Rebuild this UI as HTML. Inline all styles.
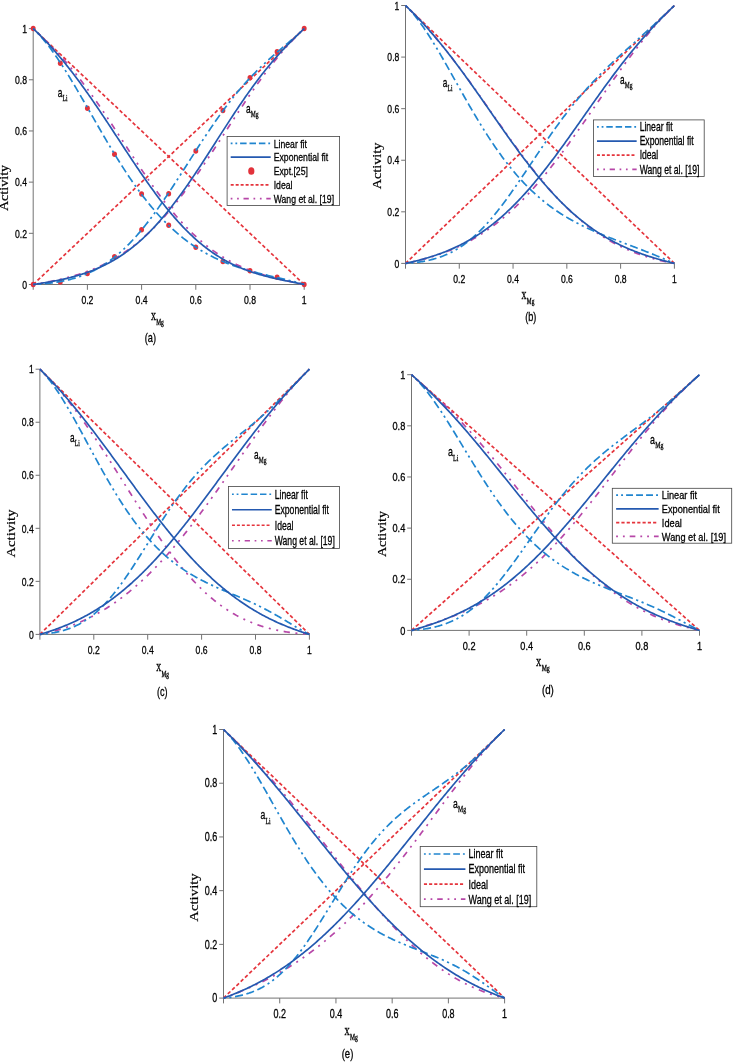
<!DOCTYPE html>
<html lang="en"><head><meta charset="utf-8"><title>Activity</title>
<style>html,body{margin:0;padding:0;background:#fff}body{width:733px;height:1062px;overflow:hidden}svg text{fill:#000}.sn{stroke:#000;stroke-width:0.3px}.sf{stroke:#000;stroke-width:0.32px}.sb{stroke:#000;stroke-width:0.3px}.sa{stroke:#000;stroke-width:0.18px}</style>
</head><body>
<svg width="733" height="1062" viewBox="0 0 733 1062" style="display:block">
<rect width="733" height="1062" fill="#fff"/>
<g><path d="M33.20,28.60 V284.50 H304.20" fill="none" stroke="#737373" stroke-width="1"/>
<path d="M28.90,284.50 H33.20 M33.20,284.50 V289.80 M28.90,233.32 H33.20 M87.40,284.50 V289.80 M28.90,182.14 H33.20 M141.60,284.50 V289.80 M28.90,130.96 H33.20 M195.80,284.50 V289.80 M28.90,79.78 H33.20 M250.00,284.50 V289.80 M28.90,28.60 H33.20 M304.20,284.50 V289.80" fill="none" stroke="#737373" stroke-width="1"/>
<text transform="translate(27.00,288.70) scale(0.76,1)" font-family='"Liberation Sans", sans-serif' class="sn" font-size="11.4" text-anchor="end" font-weight="normal" >0</text>
<text transform="translate(27.00,237.52) scale(0.76,1)" font-family='"Liberation Sans", sans-serif' class="sn" font-size="11.4" text-anchor="end" font-weight="normal" >0.2</text>
<text transform="translate(87.40,304.10) scale(0.76,1)" font-family='"Liberation Sans", sans-serif' class="sn" font-size="11.4" text-anchor="middle" font-weight="normal" >0.2</text>
<text transform="translate(27.00,186.34) scale(0.76,1)" font-family='"Liberation Sans", sans-serif' class="sn" font-size="11.4" text-anchor="end" font-weight="normal" >0.4</text>
<text transform="translate(141.60,304.10) scale(0.76,1)" font-family='"Liberation Sans", sans-serif' class="sn" font-size="11.4" text-anchor="middle" font-weight="normal" >0.4</text>
<text transform="translate(27.00,135.16) scale(0.76,1)" font-family='"Liberation Sans", sans-serif' class="sn" font-size="11.4" text-anchor="end" font-weight="normal" >0.6</text>
<text transform="translate(195.80,304.10) scale(0.76,1)" font-family='"Liberation Sans", sans-serif' class="sn" font-size="11.4" text-anchor="middle" font-weight="normal" >0.6</text>
<text transform="translate(27.00,83.98) scale(0.76,1)" font-family='"Liberation Sans", sans-serif' class="sn" font-size="11.4" text-anchor="end" font-weight="normal" >0.8</text>
<text transform="translate(250.00,304.10) scale(0.76,1)" font-family='"Liberation Sans", sans-serif' class="sn" font-size="11.4" text-anchor="middle" font-weight="normal" >0.8</text>
<text transform="translate(27.00,32.80) scale(0.76,1)" font-family='"Liberation Sans", sans-serif' class="sn" font-size="11.4" text-anchor="end" font-weight="normal" >1</text>
<text transform="translate(304.20,304.10) scale(0.76,1)" font-family='"Liberation Sans", sans-serif' class="sn" font-size="11.4" text-anchor="middle" font-weight="normal" >1</text>
<ellipse cx="33.20" cy="28.60" rx="2.45" ry="2.75" fill="#e2323b"/>
<ellipse cx="304.20" cy="284.50" rx="2.45" ry="2.75" fill="#e2323b"/>
<ellipse cx="33.20" cy="284.50" rx="2.45" ry="2.75" fill="#e2323b"/>
<ellipse cx="304.20" cy="28.60" rx="2.45" ry="2.75" fill="#e2323b"/>
<ellipse cx="60.30" cy="63.15" rx="2.45" ry="2.75" fill="#e2323b"/>
<ellipse cx="87.40" cy="108.18" rx="2.45" ry="2.75" fill="#e2323b"/>
<ellipse cx="114.50" cy="154.25" rx="2.45" ry="2.75" fill="#e2323b"/>
<ellipse cx="141.60" cy="193.91" rx="2.45" ry="2.75" fill="#e2323b"/>
<ellipse cx="168.70" cy="225.13" rx="2.45" ry="2.75" fill="#e2323b"/>
<ellipse cx="195.80" cy="247.14" rx="2.45" ry="2.75" fill="#e2323b"/>
<ellipse cx="222.90" cy="261.47" rx="2.45" ry="2.75" fill="#e2323b"/>
<ellipse cx="250.00" cy="270.68" rx="2.45" ry="2.75" fill="#e2323b"/>
<ellipse cx="277.10" cy="277.33" rx="2.45" ry="2.75" fill="#e2323b"/>
<ellipse cx="60.30" cy="281.94" rx="2.45" ry="2.75" fill="#e2323b"/>
<ellipse cx="87.40" cy="273.50" rx="2.45" ry="2.75" fill="#e2323b"/>
<ellipse cx="114.50" cy="256.86" rx="2.45" ry="2.75" fill="#e2323b"/>
<ellipse cx="141.60" cy="229.87" rx="2.45" ry="2.75" fill="#e2323b"/>
<ellipse cx="168.70" cy="193.66" rx="2.45" ry="2.75" fill="#e2323b"/>
<ellipse cx="195.80" cy="150.92" rx="2.45" ry="2.75" fill="#e2323b"/>
<ellipse cx="222.90" cy="110.49" rx="2.45" ry="2.75" fill="#e2323b"/>
<ellipse cx="250.00" cy="77.73" rx="2.45" ry="2.75" fill="#e2323b"/>
<ellipse cx="277.10" cy="51.63" rx="2.45" ry="2.75" fill="#e2323b"/>
<path d="M33.20,28.60 L304.20,284.50" fill="none" stroke="#e5343c" stroke-width="1.7" stroke-dasharray="3.6 2.35"/>
<path d="M33.20,284.50 L304.20,28.60" fill="none" stroke="#e5343c" stroke-width="1.7" stroke-dasharray="3.6 2.35"/>
<path d="M33.20,28.60 L34.33,29.67 L35.46,30.74 L36.59,31.81 L37.72,32.88 L38.85,33.96 L39.98,35.04 L41.10,36.12 L42.23,37.21 L43.36,38.31 L44.49,39.41 L45.62,40.52 L46.75,41.64 L47.88,42.76 L49.01,43.89 L50.14,45.03 L51.27,46.18 L52.40,47.34 L53.53,48.51 L54.65,49.69 L55.78,50.87 L56.91,52.07 L58.04,53.28 L59.17,54.50 L60.30,55.73 L61.43,56.98 L62.56,58.23 L63.69,59.50 L64.82,60.78 L65.95,62.07 L67.08,63.37 L68.20,64.69 L69.33,66.02 L70.46,67.36 L71.59,68.71 L72.72,70.08 L73.85,71.46 L74.98,72.85 L76.11,74.25 L77.24,75.67 L78.37,77.10 L79.50,78.54 L80.62,80.00 L81.75,81.47 L82.88,82.95 L84.01,84.44 L85.14,85.94 L86.27,87.46 L87.40,88.98 L88.53,90.52 L89.66,92.07 L90.79,93.63 L91.92,95.21 L93.05,96.79 L94.18,98.38 L95.30,99.98 L96.43,101.59 L97.56,103.22 L98.69,104.85 L99.82,106.49 L100.95,108.13 L102.08,109.79 L103.21,111.45 L104.34,113.13 L105.47,114.80 L106.60,116.49 L107.73,118.18 L108.85,119.88 L109.98,121.58 L111.11,123.29 L112.24,125.00 L113.37,126.71 L114.50,128.43 L115.63,130.16 L116.76,131.88 L117.89,133.61 L119.02,135.34 L120.15,137.08 L121.28,138.81 L122.40,140.54 L123.53,142.28 L124.66,144.01 L125.79,145.75 L126.92,147.48 L128.05,149.21 L129.18,150.94 L130.31,152.67 L131.44,154.39 L132.57,156.11 L133.70,157.83 L134.82,159.54 L135.95,161.25 L137.08,162.95 L138.21,164.65 L139.34,166.34 L140.47,168.02 L141.60,169.70 L142.73,171.37 L143.86,173.04 L144.99,174.69 L146.12,176.34 L147.25,177.98 L148.38,179.61 L149.50,181.23 L150.63,182.84 L151.76,184.44 L152.89,186.03 L154.02,187.61 L155.15,189.18 L156.28,190.73 L157.41,192.28 L158.54,193.81 L159.67,195.34 L160.80,196.84 L161.93,198.34 L163.05,199.82 L164.18,201.29 L165.31,202.75 L166.44,204.20 L167.57,205.62 L168.70,207.04 L169.83,208.44 L170.96,209.83 L172.09,211.20 L173.22,212.56 L174.35,213.90 L175.48,215.23 L176.60,216.54 L177.73,217.84 L178.86,219.12 L179.99,220.39 L181.12,221.64 L182.25,222.87 L183.38,224.09 L184.51,225.30 L185.64,226.49 L186.77,227.66 L187.90,228.82 L189.02,229.96 L190.15,231.08 L191.28,232.19 L192.41,233.29 L193.54,234.36 L194.67,235.43 L195.80,236.47 L196.93,237.50 L198.06,238.52 L199.19,239.52 L200.32,240.50 L201.45,241.47 L202.57,242.43 L203.70,243.36 L204.83,244.29 L205.96,245.19 L207.09,246.09 L208.22,246.96 L209.35,247.83 L210.48,248.68 L211.61,249.51 L212.74,250.33 L213.87,251.13 L215.00,251.92 L216.12,252.70 L217.25,253.47 L218.38,254.21 L219.51,254.95 L220.64,255.67 L221.77,256.38 L222.90,257.08 L224.03,257.76 L225.16,258.43 L226.29,259.09 L227.42,259.73 L228.55,260.37 L229.68,260.99 L230.80,261.60 L231.93,262.19 L233.06,262.78 L234.19,263.36 L235.32,263.92 L236.45,264.47 L237.58,265.01 L238.71,265.54 L239.84,266.06 L240.97,266.57 L242.10,267.07 L243.23,267.56 L244.35,268.04 L245.48,268.52 L246.61,268.98 L247.74,269.43 L248.87,269.87 L250.00,270.31 L251.13,270.73 L252.26,271.15 L253.39,271.56 L254.52,271.96 L255.65,272.36 L256.77,272.74 L257.90,273.12 L259.03,273.49 L260.16,273.86 L261.29,274.22 L262.42,274.57 L263.55,274.91 L264.68,275.25 L265.81,275.58 L266.94,275.91 L268.07,276.23 L269.20,276.54 L270.32,276.85 L271.45,277.16 L272.58,277.45 L273.71,277.75 L274.84,278.04 L275.97,278.32 L277.10,278.60 L278.23,278.88 L279.36,279.15 L280.49,279.42 L281.62,279.68 L282.75,279.94 L283.88,280.20 L285.00,280.46 L286.13,280.71 L287.26,280.96 L288.39,281.20 L289.52,281.45 L290.65,281.69 L291.78,281.93 L292.91,282.17 L294.04,282.41 L295.17,282.64 L296.30,282.88 L297.42,283.11 L298.55,283.34 L299.68,283.57 L300.81,283.80 L301.94,284.04 L303.07,284.27 L304.20,284.50" fill="none" stroke="#b747a8" stroke-width="1.7" stroke-dasharray="2 5.6 2 5.6 6.3 5.6"/>
<path d="M33.20,284.50 L34.33,284.32 L35.46,284.13 L36.59,283.94 L37.72,283.75 L38.85,283.56 L39.98,283.36 L41.10,283.17 L42.23,282.97 L43.36,282.76 L44.49,282.56 L45.62,282.35 L46.75,282.14 L47.88,281.92 L49.01,281.71 L50.14,281.48 L51.27,281.26 L52.40,281.03 L53.53,280.80 L54.65,280.56 L55.78,280.32 L56.91,280.08 L58.04,279.83 L59.17,279.57 L60.30,279.31 L61.43,279.05 L62.56,278.78 L63.69,278.51 L64.82,278.23 L65.95,277.95 L67.08,277.66 L68.20,277.36 L69.33,277.06 L70.46,276.76 L71.59,276.44 L72.72,276.13 L73.85,275.80 L74.98,275.47 L76.11,275.13 L77.24,274.79 L78.37,274.44 L79.50,274.08 L80.62,273.71 L81.75,273.34 L82.88,272.96 L84.01,272.57 L85.14,272.18 L86.27,271.77 L87.40,271.36 L88.53,270.94 L89.66,270.51 L90.79,270.08 L91.92,269.63 L93.05,269.18 L94.18,268.71 L95.30,268.24 L96.43,267.76 L97.56,267.27 L98.69,266.77 L99.82,266.26 L100.95,265.74 L102.08,265.21 L103.21,264.67 L104.34,264.12 L105.47,263.56 L106.60,262.99 L107.73,262.40 L108.85,261.81 L109.98,261.21 L111.11,260.59 L112.24,259.96 L113.37,259.32 L114.50,258.67 L115.63,258.01 L116.76,257.34 L117.89,256.65 L119.02,255.95 L120.15,255.24 L121.28,254.52 L122.40,253.78 L123.53,253.03 L124.66,252.27 L125.79,251.50 L126.92,250.71 L128.05,249.91 L129.18,249.09 L130.31,248.27 L131.44,247.43 L132.57,246.57 L133.70,245.70 L134.82,244.82 L135.95,243.92 L137.08,243.01 L138.21,242.09 L139.34,241.15 L140.47,240.20 L141.60,239.23 L142.73,238.25 L143.86,237.26 L144.99,236.24 L146.12,235.22 L147.25,234.18 L148.38,233.13 L149.50,232.06 L150.63,230.98 L151.76,229.88 L152.89,228.77 L154.02,227.64 L155.15,226.50 L156.28,225.34 L157.41,224.17 L158.54,222.99 L159.67,221.79 L160.80,220.57 L161.93,219.34 L163.05,218.10 L164.18,216.84 L165.31,215.57 L166.44,214.28 L167.57,212.98 L168.70,211.67 L169.83,210.34 L170.96,209.00 L172.09,207.64 L173.22,206.27 L174.35,204.89 L175.48,203.49 L176.60,202.08 L177.73,200.66 L178.86,199.23 L179.99,197.78 L181.12,196.32 L182.25,194.84 L183.38,193.36 L184.51,191.86 L185.64,190.35 L186.77,188.83 L187.90,187.30 L189.02,185.76 L190.15,184.20 L191.28,182.64 L192.41,181.06 L193.54,179.48 L194.67,177.88 L195.80,176.28 L196.93,174.66 L198.06,173.04 L199.19,171.41 L200.32,169.77 L201.45,168.12 L202.57,166.47 L203.70,164.80 L204.83,163.13 L205.96,161.46 L207.09,159.77 L208.22,158.08 L209.35,156.39 L210.48,154.69 L211.61,152.98 L212.74,151.27 L213.87,149.55 L215.00,147.84 L216.12,146.11 L217.25,144.39 L218.38,142.66 L219.51,140.93 L220.64,139.19 L221.77,137.46 L222.90,135.72 L224.03,133.98 L225.16,132.25 L226.29,130.51 L227.42,128.77 L228.55,127.03 L229.68,125.29 L230.80,123.56 L231.93,121.83 L233.06,120.10 L234.19,118.37 L235.32,116.64 L236.45,114.92 L237.58,113.20 L238.71,111.48 L239.84,109.77 L240.97,108.07 L242.10,106.37 L243.23,104.67 L244.35,102.98 L245.48,101.30 L246.61,99.63 L247.74,97.96 L248.87,96.29 L250.00,94.64 L251.13,92.99 L252.26,91.36 L253.39,89.73 L254.52,88.11 L255.65,86.49 L256.77,84.89 L257.90,83.30 L259.03,81.72 L260.16,80.15 L261.29,78.58 L262.42,77.03 L263.55,75.49 L264.68,73.97 L265.81,72.45 L266.94,70.95 L268.07,69.45 L269.20,67.97 L270.32,66.50 L271.45,65.05 L272.58,63.60 L273.71,62.17 L274.84,60.75 L275.97,59.35 L277.10,57.96 L278.23,56.58 L279.36,55.21 L280.49,53.86 L281.62,52.53 L282.75,51.20 L283.88,49.89 L285.00,48.59 L286.13,47.31 L287.26,46.04 L288.39,44.78 L289.52,43.54 L290.65,42.31 L291.78,41.10 L292.91,39.89 L294.04,38.71 L295.17,37.53 L296.30,36.37 L297.42,35.22 L298.55,34.09 L299.68,32.96 L300.81,31.85 L301.94,30.76 L303.07,29.67 L304.20,28.60" fill="none" stroke="#b747a8" stroke-width="1.7" stroke-dasharray="2 5.6 2 5.6 6.3 5.6"/>
<path d="M33.20,28.60 L34.33,29.68 L35.46,30.80 L36.59,31.95 L37.72,33.13 L38.85,34.34 L39.98,35.58 L41.10,36.86 L42.23,38.16 L43.36,39.49 L44.49,40.86 L45.62,42.25 L46.75,43.67 L47.88,45.11 L49.01,46.58 L50.14,48.08 L51.27,49.61 L52.40,51.15 L53.53,52.73 L54.65,54.32 L55.78,55.94 L56.91,57.58 L58.04,59.24 L59.17,60.93 L60.30,62.63 L61.43,64.35 L62.56,66.09 L63.69,67.85 L64.82,69.62 L65.95,71.42 L67.08,73.22 L68.20,75.05 L69.33,76.88 L70.46,78.73 L71.59,80.59 L72.72,82.47 L73.85,84.36 L74.98,86.25 L76.11,88.16 L77.24,90.07 L78.37,92.00 L79.50,93.93 L80.62,95.87 L81.75,97.81 L82.88,99.76 L84.01,101.72 L85.14,103.68 L86.27,105.64 L87.40,107.60 L88.53,109.57 L89.66,111.54 L90.79,113.51 L91.92,115.48 L93.05,117.45 L94.18,119.42 L95.30,121.38 L96.43,123.35 L97.56,125.31 L98.69,127.27 L99.82,129.22 L100.95,131.17 L102.08,133.11 L103.21,135.05 L104.34,136.98 L105.47,138.90 L106.60,140.82 L107.73,142.73 L108.85,144.63 L109.98,146.52 L111.11,148.41 L112.24,150.28 L113.37,152.14 L114.50,153.99 L115.63,155.84 L116.76,157.67 L117.89,159.48 L119.02,161.29 L120.15,163.08 L121.28,164.86 L122.40,166.63 L123.53,168.39 L124.66,170.13 L125.79,171.85 L126.92,173.56 L128.05,175.26 L129.18,176.94 L130.31,178.61 L131.44,180.27 L132.57,181.90 L133.70,183.52 L134.82,185.13 L135.95,186.72 L137.08,188.29 L138.21,189.85 L139.34,191.39 L140.47,192.91 L141.60,194.42 L142.73,195.91 L143.86,197.39 L144.99,198.84 L146.12,200.28 L147.25,201.70 L148.38,203.11 L149.50,204.50 L150.63,205.87 L151.76,207.22 L152.89,208.56 L154.02,209.88 L155.15,211.18 L156.28,212.46 L157.41,213.73 L158.54,214.98 L159.67,216.22 L160.80,217.43 L161.93,218.63 L163.05,219.81 L164.18,220.98 L165.31,222.13 L166.44,223.26 L167.57,224.37 L168.70,225.47 L169.83,226.55 L170.96,227.62 L172.09,228.67 L173.22,229.70 L174.35,230.72 L175.48,231.72 L176.60,232.71 L177.73,233.68 L178.86,234.63 L179.99,235.57 L181.12,236.49 L182.25,237.40 L183.38,238.30 L184.51,239.18 L185.64,240.04 L186.77,240.89 L187.90,241.73 L189.02,242.55 L190.15,243.35 L191.28,244.15 L192.41,244.93 L193.54,245.70 L194.67,246.45 L195.80,247.19 L196.93,247.92 L198.06,248.63 L199.19,249.33 L200.32,250.02 L201.45,250.70 L202.57,251.37 L203.70,252.02 L204.83,252.66 L205.96,253.29 L207.09,253.91 L208.22,254.52 L209.35,255.12 L210.48,255.71 L211.61,256.28 L212.74,256.85 L213.87,257.40 L215.00,257.95 L216.12,258.48 L217.25,259.01 L218.38,259.53 L219.51,260.03 L220.64,260.53 L221.77,261.02 L222.90,261.50 L224.03,261.97 L225.16,262.43 L226.29,262.89 L227.42,263.34 L228.55,263.77 L229.68,264.21 L230.80,264.63 L231.93,265.04 L233.06,265.45 L234.19,265.86 L235.32,266.25 L236.45,266.64 L237.58,267.02 L238.71,267.40 L239.84,267.77 L240.97,268.13 L242.10,268.49 L243.23,268.84 L244.35,269.18 L245.48,269.52 L246.61,269.86 L247.74,270.19 L248.87,270.52 L250.00,270.84 L251.13,271.15 L252.26,271.47 L253.39,271.77 L254.52,272.08 L255.65,272.38 L256.77,272.67 L257.90,272.97 L259.03,273.26 L260.16,273.54 L261.29,273.82 L262.42,274.11 L263.55,274.38 L264.68,274.66 L265.81,274.93 L266.94,275.20 L268.07,275.47 L269.20,275.74 L270.32,276.01 L271.45,276.27 L272.58,276.53 L273.71,276.80 L274.84,277.06 L275.97,277.32 L277.10,277.58 L278.23,277.84 L279.36,278.10 L280.49,278.36 L281.62,278.63 L282.75,278.89 L283.88,279.16 L285.00,279.42 L286.13,279.69 L287.26,279.96 L288.39,280.23 L289.52,280.51 L290.65,280.79 L291.78,281.07 L292.91,281.35 L294.04,281.64 L295.17,281.94 L296.30,282.23 L297.42,282.54 L298.55,282.85 L299.68,283.16 L300.81,283.49 L301.94,283.82 L303.07,284.15 L304.20,284.50" fill="none" stroke="#2085cf" stroke-width="1.7" stroke-dasharray="2.2 3.6 2.2 3.6 8.1 3.6 8.1 3.6 8.1 3.6"/>
<path d="M33.20,284.50 L34.33,284.44 L35.46,284.37 L36.59,284.30 L37.72,284.23 L38.85,284.15 L39.98,284.07 L41.10,283.98 L42.23,283.88 L43.36,283.79 L44.49,283.68 L45.62,283.57 L46.75,283.46 L47.88,283.34 L49.01,283.21 L50.14,283.08 L51.27,282.94 L52.40,282.79 L53.53,282.64 L54.65,282.48 L55.78,282.31 L56.91,282.14 L58.04,281.95 L59.17,281.76 L60.30,281.56 L61.43,281.35 L62.56,281.14 L63.69,280.91 L64.82,280.67 L65.95,280.43 L67.08,280.17 L68.20,279.91 L69.33,279.63 L70.46,279.35 L71.59,279.05 L72.72,278.74 L73.85,278.42 L74.98,278.09 L76.11,277.75 L77.24,277.39 L78.37,277.02 L79.50,276.64 L80.62,276.25 L81.75,275.84 L82.88,275.42 L84.01,274.98 L85.14,274.54 L86.27,274.07 L87.40,273.60 L88.53,273.10 L89.66,272.60 L90.79,272.07 L91.92,271.53 L93.05,270.98 L94.18,270.41 L95.30,269.82 L96.43,269.22 L97.56,268.60 L98.69,267.96 L99.82,267.31 L100.95,266.64 L102.08,265.95 L103.21,265.24 L104.34,264.52 L105.47,263.78 L106.60,263.01 L107.73,262.24 L108.85,261.44 L109.98,260.62 L111.11,259.78 L112.24,258.93 L113.37,258.06 L114.50,257.16 L115.63,256.25 L116.76,255.32 L117.89,254.37 L119.02,253.40 L120.15,252.41 L121.28,251.40 L122.40,250.37 L123.53,249.32 L124.66,248.25 L125.79,247.16 L126.92,246.05 L128.05,244.93 L129.18,243.78 L130.31,242.61 L131.44,241.43 L132.57,240.22 L133.70,239.00 L134.82,237.76 L135.95,236.49 L137.08,235.21 L138.21,233.91 L139.34,232.60 L140.47,231.26 L141.60,229.91 L142.73,228.54 L143.86,227.15 L144.99,225.74 L146.12,224.32 L147.25,222.88 L148.38,221.42 L149.50,219.95 L150.63,218.46 L151.76,216.96 L152.89,215.44 L154.02,213.90 L155.15,212.35 L156.28,210.79 L157.41,209.22 L158.54,207.63 L159.67,206.02 L160.80,204.41 L161.93,202.78 L163.05,201.15 L164.18,199.50 L165.31,197.84 L166.44,196.17 L167.57,194.49 L168.70,192.80 L169.83,191.10 L170.96,189.39 L172.09,187.68 L173.22,185.96 L174.35,184.23 L175.48,182.49 L176.60,180.75 L177.73,179.01 L178.86,177.26 L179.99,175.51 L181.12,173.75 L182.25,171.99 L183.38,170.23 L184.51,168.46 L185.64,166.70 L186.77,164.93 L187.90,163.16 L189.02,161.39 L190.15,159.63 L191.28,157.86 L192.41,156.10 L193.54,154.34 L194.67,152.58 L195.80,150.82 L196.93,149.07 L198.06,147.33 L199.19,145.58 L200.32,143.85 L201.45,142.12 L202.57,140.39 L203.70,138.67 L204.83,136.96 L205.96,135.26 L207.09,133.56 L208.22,131.88 L209.35,130.20 L210.48,128.53 L211.61,126.87 L212.74,125.22 L213.87,123.58 L215.00,121.95 L216.12,120.33 L217.25,118.73 L218.38,117.13 L219.51,115.55 L220.64,113.98 L221.77,112.42 L222.90,110.88 L224.03,109.34 L225.16,107.82 L226.29,106.32 L227.42,104.82 L228.55,103.35 L229.68,101.88 L230.80,100.43 L231.93,98.99 L233.06,97.57 L234.19,96.16 L235.32,94.76 L236.45,93.38 L237.58,92.02 L238.71,90.67 L239.84,89.33 L240.97,88.01 L242.10,86.70 L243.23,85.40 L244.35,84.12 L245.48,82.86 L246.61,81.60 L247.74,80.37 L248.87,79.14 L250.00,77.93 L251.13,76.73 L252.26,75.55 L253.39,74.38 L254.52,73.22 L255.65,72.07 L256.77,70.94 L257.90,69.82 L259.03,68.71 L260.16,67.61 L261.29,66.52 L262.42,65.44 L263.55,64.37 L264.68,63.32 L265.81,62.27 L266.94,61.23 L268.07,60.20 L269.20,59.18 L270.32,58.17 L271.45,57.16 L272.58,56.16 L273.71,55.17 L274.84,54.18 L275.97,53.20 L277.10,52.23 L278.23,51.25 L279.36,50.29 L280.49,49.32 L281.62,48.36 L282.75,47.40 L283.88,46.44 L285.00,45.48 L286.13,44.52 L287.26,43.56 L288.39,42.60 L289.52,41.64 L290.65,40.68 L291.78,39.71 L292.91,38.74 L294.04,37.76 L295.17,36.77 L296.30,35.78 L297.42,34.79 L298.55,33.78 L299.68,32.77 L300.81,31.74 L301.94,30.71 L303.07,29.66 L304.20,28.60" fill="none" stroke="#2085cf" stroke-width="1.7" stroke-dasharray="2.2 3.6 2.2 3.6 8.1 3.6 8.1 3.6 8.1 3.6"/>
<path d="M33.20,28.60 L34.33,29.67 L35.46,30.76 L36.59,31.85 L37.72,32.96 L38.85,34.08 L39.98,35.21 L41.10,36.35 L42.23,37.50 L43.36,38.67 L44.49,39.84 L45.62,41.03 L46.75,42.23 L47.88,43.45 L49.01,44.67 L50.14,45.91 L51.27,47.15 L52.40,48.41 L53.53,49.68 L54.65,50.97 L55.78,52.26 L56.91,53.57 L58.04,54.89 L59.17,56.22 L60.30,57.56 L61.43,58.91 L62.56,60.28 L63.69,61.65 L64.82,63.04 L65.95,64.44 L67.08,65.85 L68.20,67.27 L69.33,68.70 L70.46,70.15 L71.59,71.60 L72.72,73.07 L73.85,74.54 L74.98,76.03 L76.11,77.52 L77.24,79.03 L78.37,80.55 L79.50,82.08 L80.62,83.61 L81.75,85.16 L82.88,86.72 L84.01,88.28 L85.14,89.86 L86.27,91.44 L87.40,93.03 L88.53,94.63 L89.66,96.24 L90.79,97.86 L91.92,99.48 L93.05,101.12 L94.18,102.76 L95.30,104.40 L96.43,106.06 L97.56,107.72 L98.69,109.38 L99.82,111.06 L100.95,112.73 L102.08,114.42 L103.21,116.11 L104.34,117.80 L105.47,119.50 L106.60,121.20 L107.73,122.90 L108.85,124.61 L109.98,126.32 L111.11,128.04 L112.24,129.76 L113.37,131.48 L114.50,133.20 L115.63,134.92 L116.76,136.64 L117.89,138.37 L119.02,140.09 L120.15,141.81 L121.28,143.54 L122.40,145.26 L123.53,146.98 L124.66,148.70 L125.79,150.42 L126.92,152.13 L128.05,153.85 L129.18,155.56 L130.31,157.26 L131.44,158.96 L132.57,160.66 L133.70,162.35 L134.82,164.04 L135.95,165.73 L137.08,167.40 L138.21,169.07 L139.34,170.74 L140.47,172.40 L141.60,174.05 L142.73,175.69 L143.86,177.32 L144.99,178.95 L146.12,180.57 L147.25,182.18 L148.38,183.78 L149.50,185.37 L150.63,186.95 L151.76,188.52 L152.89,190.08 L154.02,191.62 L155.15,193.16 L156.28,194.69 L157.41,196.20 L158.54,197.70 L159.67,199.20 L160.80,200.67 L161.93,202.14 L163.05,203.59 L164.18,205.03 L165.31,206.46 L166.44,207.87 L167.57,209.27 L168.70,210.65 L169.83,212.02 L170.96,213.38 L172.09,214.72 L173.22,216.04 L174.35,217.36 L175.48,218.65 L176.60,219.93 L177.73,221.20 L178.86,222.45 L179.99,223.69 L181.12,224.91 L182.25,226.11 L183.38,227.30 L184.51,228.47 L185.64,229.63 L186.77,230.77 L187.90,231.90 L189.02,233.01 L190.15,234.10 L191.28,235.18 L192.41,236.24 L193.54,237.29 L194.67,238.32 L195.80,239.34 L196.93,240.33 L198.06,241.32 L199.19,242.28 L200.32,243.24 L201.45,244.17 L202.57,245.09 L203.70,246.00 L204.83,246.89 L205.96,247.76 L207.09,248.62 L208.22,249.46 L209.35,250.29 L210.48,251.11 L211.61,251.91 L212.74,252.69 L213.87,253.46 L215.00,254.22 L216.12,254.96 L217.25,255.69 L218.38,256.40 L219.51,257.10 L220.64,257.78 L221.77,258.46 L222.90,259.12 L224.03,259.76 L225.16,260.40 L226.29,261.02 L227.42,261.63 L228.55,262.22 L229.68,262.80 L230.80,263.38 L231.93,263.93 L233.06,264.48 L234.19,265.02 L235.32,265.54 L236.45,266.06 L237.58,266.56 L238.71,267.05 L239.84,267.54 L240.97,268.01 L242.10,268.47 L243.23,268.92 L244.35,269.36 L245.48,269.79 L246.61,270.22 L247.74,270.63 L248.87,271.04 L250.00,271.43 L251.13,271.82 L252.26,272.20 L253.39,272.57 L254.52,272.94 L255.65,273.29 L256.77,273.64 L257.90,273.99 L259.03,274.32 L260.16,274.65 L261.29,274.97 L262.42,275.28 L263.55,275.59 L264.68,275.90 L265.81,276.19 L266.94,276.48 L268.07,276.77 L269.20,277.05 L270.32,277.33 L271.45,277.60 L272.58,277.87 L273.71,278.13 L274.84,278.39 L275.97,278.64 L277.10,278.89 L278.23,279.14 L279.36,279.38 L280.49,279.63 L281.62,279.86 L282.75,280.10 L283.88,280.34 L285.00,280.57 L286.13,280.80 L287.26,281.03 L288.39,281.25 L289.52,281.48 L290.65,281.71 L291.78,281.93 L292.91,282.16 L294.04,282.39 L295.17,282.61 L296.30,282.84 L297.42,283.07 L298.55,283.30 L299.68,283.54 L300.81,283.77 L301.94,284.01 L303.07,284.25 L304.20,284.50" fill="none" stroke="#2459b0" stroke-width="1.7"/>
<path d="M33.20,284.50 L34.33,284.33 L35.46,284.17 L36.59,284.00 L37.72,283.83 L38.85,283.65 L39.98,283.48 L41.10,283.30 L42.23,283.12 L43.36,282.94 L44.49,282.75 L45.62,282.57 L46.75,282.38 L47.88,282.18 L49.01,281.99 L50.14,281.79 L51.27,281.59 L52.40,281.38 L53.53,281.17 L54.65,280.95 L55.78,280.74 L56.91,280.51 L58.04,280.29 L59.17,280.06 L60.30,279.82 L61.43,279.58 L62.56,279.33 L63.69,279.08 L64.82,278.83 L65.95,278.57 L67.08,278.30 L68.20,278.03 L69.33,277.75 L70.46,277.46 L71.59,277.17 L72.72,276.87 L73.85,276.57 L74.98,276.26 L76.11,275.94 L77.24,275.62 L78.37,275.29 L79.50,274.95 L80.62,274.60 L81.75,274.25 L82.88,273.88 L84.01,273.51 L85.14,273.13 L86.27,272.75 L87.40,272.35 L88.53,271.95 L89.66,271.53 L90.79,271.11 L91.92,270.68 L93.05,270.23 L94.18,269.78 L95.30,269.32 L96.43,268.85 L97.56,268.36 L98.69,267.87 L99.82,267.37 L100.95,266.85 L102.08,266.33 L103.21,265.79 L104.34,265.24 L105.47,264.68 L106.60,264.11 L107.73,263.52 L108.85,262.93 L109.98,262.32 L111.11,261.70 L112.24,261.06 L113.37,260.42 L114.50,259.76 L115.63,259.08 L116.76,258.40 L117.89,257.69 L119.02,256.98 L120.15,256.25 L121.28,255.51 L122.40,254.75 L123.53,253.98 L124.66,253.20 L125.79,252.40 L126.92,251.58 L128.05,250.75 L129.18,249.91 L130.31,249.05 L131.44,248.17 L132.57,247.28 L133.70,246.38 L134.82,245.45 L135.95,244.52 L137.08,243.56 L138.21,242.59 L139.34,241.61 L140.47,240.61 L141.60,239.59 L142.73,238.55 L143.86,237.50 L144.99,236.44 L146.12,235.36 L147.25,234.26 L148.38,233.14 L149.50,232.01 L150.63,230.86 L151.76,229.70 L152.89,228.52 L154.02,227.32 L155.15,226.11 L156.28,224.88 L157.41,223.63 L158.54,222.37 L159.67,221.09 L160.80,219.80 L161.93,218.49 L163.05,217.17 L164.18,215.82 L165.31,214.47 L166.44,213.10 L167.57,211.71 L168.70,210.31 L169.83,208.89 L170.96,207.46 L172.09,206.02 L173.22,204.56 L174.35,203.08 L175.48,201.59 L176.60,200.09 L177.73,198.58 L178.86,197.05 L179.99,195.51 L181.12,193.96 L182.25,192.39 L183.38,190.81 L184.51,189.22 L185.64,187.62 L186.77,186.01 L187.90,184.39 L189.02,182.75 L190.15,181.11 L191.28,179.46 L192.41,177.79 L193.54,176.12 L194.67,174.44 L195.80,172.75 L196.93,171.06 L198.06,169.35 L199.19,167.64 L200.32,165.92 L201.45,164.20 L202.57,162.47 L203.70,160.74 L204.83,159.00 L205.96,157.25 L207.09,155.50 L208.22,153.75 L209.35,152.00 L210.48,150.24 L211.61,148.48 L212.74,146.72 L213.87,144.96 L215.00,143.19 L216.12,141.43 L217.25,139.66 L218.38,137.90 L219.51,136.14 L220.64,134.38 L221.77,132.62 L222.90,130.86 L224.03,129.10 L225.16,127.35 L226.29,125.61 L227.42,123.86 L228.55,122.12 L229.68,120.39 L230.80,118.66 L231.93,116.94 L233.06,115.22 L234.19,113.51 L235.32,111.81 L236.45,110.11 L237.58,108.42 L238.71,106.74 L239.84,105.07 L240.97,103.41 L242.10,101.76 L243.23,100.11 L244.35,98.48 L245.48,96.85 L246.61,95.24 L247.74,93.63 L248.87,92.04 L250.00,90.46 L251.13,88.89 L252.26,87.33 L253.39,85.78 L254.52,84.25 L255.65,82.72 L256.77,81.21 L257.90,79.72 L259.03,78.23 L260.16,76.76 L261.29,75.30 L262.42,73.85 L263.55,72.42 L264.68,71.00 L265.81,69.59 L266.94,68.19 L268.07,66.81 L269.20,65.44 L270.32,64.09 L271.45,62.74 L272.58,61.42 L273.71,60.10 L274.84,58.79 L275.97,57.50 L277.10,56.22 L278.23,54.96 L279.36,53.70 L280.49,52.46 L281.62,51.23 L282.75,50.01 L283.88,48.80 L285.00,47.61 L286.13,46.42 L287.26,45.24 L288.39,44.08 L289.52,42.92 L290.65,41.78 L291.78,40.64 L292.91,39.51 L294.04,38.39 L295.17,37.28 L296.30,36.17 L297.42,35.07 L298.55,33.98 L299.68,32.90 L300.81,31.82 L301.94,30.74 L303.07,29.67 L304.20,28.60" fill="none" stroke="#2459b0" stroke-width="1.7"/>
<rect x="227.1" y="136.5" width="112.50" height="69.00" fill="#fff" stroke="#444" stroke-width="0.8"/>
<path d="M230.7,143.40 H270.7" stroke="#2085cf" stroke-width="1.7" stroke-dasharray="1.80 2.90 1.80 2.90 6.50 2.90 6.50 2.90 6.50 2.90"/>
<text transform="translate(273.70,147.60) scale(0.735,1)" font-family='"Liberation Sans", sans-serif' class="sn" font-size="11.8" text-anchor="start" font-weight="normal" >Linear fit</text>
<path d="M230.7,157.20 H270.7" stroke="#2459b0" stroke-width="1.7"/>
<text transform="translate(273.70,161.40) scale(0.735,1)" font-family='"Liberation Sans", sans-serif' class="sn" font-size="11.8" text-anchor="start" font-weight="normal" >Exponential fit</text>
<ellipse cx="251.30" cy="171.00" rx="3.1" ry="3.85" fill="#e2323b"/>
<text transform="translate(273.70,175.20) scale(0.735,1)" font-family='"Liberation Sans", sans-serif' class="sn" font-size="11.8" text-anchor="start" font-weight="normal" >Expt.[25]</text>
<path d="M230.7,184.80 H269.2" stroke="#e5343c" stroke-width="1.7" stroke-dasharray="3.00 1.97"/>
<text transform="translate(273.70,189.00) scale(0.735,1)" font-family='"Liberation Sans", sans-serif' class="sn" font-size="11.8" text-anchor="start" font-weight="normal" >Ideal</text>
<path d="M230.7,198.60 H270.7" stroke="#b747a8" stroke-width="1.7" stroke-dasharray="1.70 4.70 1.70 4.70 5.30 4.70"/>
<text transform="translate(273.70,202.80) scale(0.735,1)" font-family='"Liberation Sans", sans-serif' class="sn" font-size="11.8" text-anchor="start" font-weight="normal" >Wang et al. [19]</text>
<text transform="translate(8.3,188) rotate(-90) scale(1.197,1)" font-family='"Liberation Serif", serif' font-size="11.80" text-anchor="middle" class="sa">Activity</text>
<text transform="translate(150.9,319.7) scale(0.720,1)" font-family='"Liberation Serif", serif' font-size="13.80" class="sf">x<tspan font-size="7.60" dy="5.20" dx="0.4">Mg</tspan></text>
<text transform="translate(150.40,342.00) scale(0.77,1)" font-family='"Liberation Sans", sans-serif' class="sn" font-size="11.9" text-anchor="middle" font-weight="normal" >(a)</text>
<text transform="translate(57.8,97) scale(0.660,1)" font-family='"Liberation Sans", sans-serif' font-size="12.60" class="sn">a<tspan font-family='"Liberation Serif", serif' font-size="8.50" dy="4.20" dx="0.3" class="sb">Li</tspan></text>
<text transform="translate(246,113) scale(0.660,1)" font-family='"Liberation Sans", sans-serif' font-size="12.60" class="sn">a<tspan font-family='"Liberation Serif", serif' font-size="8.50" dy="4.20" dx="0.3" class="sb">Mg</tspan></text></g>
<g><path d="M405.50,5.50 V263.40 H674.40" fill="none" stroke="#737373" stroke-width="1"/>
<path d="M401.20,263.40 H405.50 M405.50,263.40 V268.70 M401.20,211.82 H405.50 M459.28,263.40 V268.70 M401.20,160.24 H405.50 M513.06,263.40 V268.70 M401.20,108.66 H405.50 M566.84,263.40 V268.70 M401.20,57.08 H405.50 M620.62,263.40 V268.70 M401.20,5.50 H405.50 M674.40,263.40 V268.70" fill="none" stroke="#737373" stroke-width="1"/>
<text transform="translate(399.30,267.60) scale(0.7482626150185503,1)" font-family='"Liberation Sans", sans-serif' class="sn" font-size="11.489097303634232" text-anchor="end" font-weight="normal" >0</text>
<text transform="translate(399.30,216.02) scale(0.7482626150185503,1)" font-family='"Liberation Sans", sans-serif' class="sn" font-size="11.489097303634232" text-anchor="end" font-weight="normal" >0.2</text>
<text transform="translate(459.28,283.00) scale(0.7482626150185503,1)" font-family='"Liberation Sans", sans-serif' class="sn" font-size="11.489097303634232" text-anchor="middle" font-weight="normal" >0.2</text>
<text transform="translate(399.30,164.44) scale(0.7482626150185503,1)" font-family='"Liberation Sans", sans-serif' class="sn" font-size="11.489097303634232" text-anchor="end" font-weight="normal" >0.4</text>
<text transform="translate(513.06,283.00) scale(0.7482626150185503,1)" font-family='"Liberation Sans", sans-serif' class="sn" font-size="11.489097303634232" text-anchor="middle" font-weight="normal" >0.4</text>
<text transform="translate(399.30,112.86) scale(0.7482626150185503,1)" font-family='"Liberation Sans", sans-serif' class="sn" font-size="11.489097303634232" text-anchor="end" font-weight="normal" >0.6</text>
<text transform="translate(566.84,283.00) scale(0.7482626150185503,1)" font-family='"Liberation Sans", sans-serif' class="sn" font-size="11.489097303634232" text-anchor="middle" font-weight="normal" >0.6</text>
<text transform="translate(399.30,61.28) scale(0.7482626150185503,1)" font-family='"Liberation Sans", sans-serif' class="sn" font-size="11.489097303634232" text-anchor="end" font-weight="normal" >0.8</text>
<text transform="translate(620.62,283.00) scale(0.7482626150185503,1)" font-family='"Liberation Sans", sans-serif' class="sn" font-size="11.489097303634232" text-anchor="middle" font-weight="normal" >0.8</text>
<text transform="translate(399.30,9.70) scale(0.7482626150185503,1)" font-family='"Liberation Sans", sans-serif' class="sn" font-size="11.489097303634232" text-anchor="end" font-weight="normal" >1</text>
<text transform="translate(674.40,283.00) scale(0.7482626150185503,1)" font-family='"Liberation Sans", sans-serif' class="sn" font-size="11.489097303634232" text-anchor="middle" font-weight="normal" >1</text>
<path d="M405.50,5.50 L674.40,263.40" fill="none" stroke="#e5343c" stroke-width="1.7" stroke-dasharray="3.6 2.35"/>
<path d="M405.50,263.40 L674.40,5.50" fill="none" stroke="#e5343c" stroke-width="1.7" stroke-dasharray="3.6 2.35"/>
<path d="M405.50,5.50 L406.62,6.58 L407.74,7.67 L408.86,8.76 L409.98,9.87 L411.10,10.98 L412.22,12.10 L413.34,13.23 L414.46,14.37 L415.58,15.52 L416.70,16.68 L417.82,17.85 L418.94,19.03 L420.07,20.21 L421.19,21.41 L422.31,22.62 L423.43,23.83 L424.55,25.06 L425.67,26.29 L426.79,27.54 L427.91,28.79 L429.03,30.05 L430.15,31.33 L431.27,32.61 L432.39,33.90 L433.51,35.20 L434.63,36.51 L435.75,37.83 L436.87,39.16 L437.99,40.50 L439.11,41.85 L440.23,43.21 L441.35,44.58 L442.47,45.95 L443.59,47.34 L444.71,48.73 L445.83,50.13 L446.96,51.54 L448.08,52.96 L449.20,54.39 L450.32,55.82 L451.44,57.27 L452.56,58.72 L453.68,60.18 L454.80,61.65 L455.92,63.12 L457.04,64.60 L458.16,66.09 L459.28,67.58 L460.40,69.09 L461.52,70.59 L462.64,72.11 L463.76,73.63 L464.88,75.16 L466.00,76.69 L467.12,78.23 L468.24,79.77 L469.36,81.32 L470.48,82.87 L471.60,84.43 L472.73,85.99 L473.85,87.56 L474.97,89.13 L476.09,90.70 L477.21,92.28 L478.33,93.86 L479.45,95.44 L480.57,97.03 L481.69,98.62 L482.81,100.21 L483.93,101.80 L485.05,103.39 L486.17,104.99 L487.29,106.59 L488.41,108.18 L489.53,109.78 L490.65,111.38 L491.77,112.98 L492.89,114.58 L494.01,116.17 L495.13,117.77 L496.25,119.37 L497.37,120.96 L498.49,122.56 L499.62,124.15 L500.74,125.74 L501.86,127.33 L502.98,128.91 L504.10,130.49 L505.22,132.07 L506.34,133.65 L507.46,135.22 L508.58,136.79 L509.70,138.35 L510.82,139.91 L511.94,141.46 L513.06,143.01 L514.18,144.56 L515.30,146.10 L516.42,147.63 L517.54,149.16 L518.66,150.68 L519.78,152.20 L520.90,153.71 L522.02,155.21 L523.14,156.71 L524.26,158.20 L525.38,159.68 L526.50,161.15 L527.63,162.62 L528.75,164.08 L529.87,165.53 L530.99,166.97 L532.11,168.40 L533.23,169.82 L534.35,171.24 L535.47,172.65 L536.59,174.04 L537.71,175.43 L538.83,176.81 L539.95,178.18 L541.07,179.53 L542.19,180.88 L543.31,182.22 L544.43,183.55 L545.55,184.87 L546.67,186.17 L547.79,187.47 L548.91,188.75 L550.03,190.03 L551.15,191.29 L552.27,192.54 L553.39,193.78 L554.52,195.01 L555.64,196.23 L556.76,197.44 L557.88,198.63 L559.00,199.81 L560.12,200.98 L561.24,202.14 L562.36,203.29 L563.48,204.43 L564.60,205.55 L565.72,206.66 L566.84,207.76 L567.96,208.85 L569.08,209.92 L570.20,210.99 L571.32,212.04 L572.44,213.07 L573.56,214.10 L574.68,215.11 L575.80,216.12 L576.92,217.11 L578.04,218.08 L579.16,219.05 L580.28,220.00 L581.41,220.94 L582.53,221.87 L583.65,222.78 L584.77,223.69 L585.89,224.58 L587.01,225.46 L588.13,226.33 L589.25,227.18 L590.37,228.02 L591.49,228.86 L592.61,229.68 L593.73,230.48 L594.85,231.28 L595.97,232.06 L597.09,232.84 L598.21,233.60 L599.33,234.35 L600.45,235.09 L601.57,235.81 L602.69,236.53 L603.81,237.23 L604.93,237.92 L606.05,238.61 L607.17,239.28 L608.30,239.94 L609.42,240.59 L610.54,241.23 L611.66,241.85 L612.78,242.47 L613.90,243.08 L615.02,243.67 L616.14,244.26 L617.26,244.84 L618.38,245.40 L619.50,245.96 L620.62,246.51 L621.74,247.04 L622.86,247.57 L623.98,248.09 L625.10,248.60 L626.22,249.10 L627.34,249.59 L628.46,250.07 L629.58,250.54 L630.70,251.00 L631.82,251.46 L632.94,251.90 L634.06,252.34 L635.19,252.77 L636.31,253.19 L637.43,253.60 L638.55,254.01 L639.67,254.41 L640.79,254.79 L641.91,255.18 L643.03,255.55 L644.15,255.92 L645.27,256.27 L646.39,256.63 L647.51,256.97 L648.63,257.31 L649.75,257.64 L650.87,257.96 L651.99,258.28 L653.11,258.59 L654.23,258.90 L655.35,259.19 L656.47,259.49 L657.59,259.77 L658.71,260.05 L659.83,260.32 L660.95,260.59 L662.08,260.86 L663.20,261.11 L664.32,261.36 L665.44,261.61 L666.56,261.85 L667.68,262.09 L668.80,262.32 L669.92,262.54 L671.04,262.76 L672.16,262.98 L673.28,263.19 L674.40,263.40" fill="none" stroke="#b747a8" stroke-width="1.7" stroke-dasharray="2 5.6 2 5.6 6.3 5.6"/>
<path d="M405.50,263.40 L406.62,263.17 L407.74,262.93 L408.86,262.69 L409.98,262.44 L411.10,262.20 L412.22,261.94 L413.34,261.69 L414.46,261.42 L415.58,261.16 L416.70,260.89 L417.82,260.61 L418.94,260.34 L420.07,260.05 L421.19,259.76 L422.31,259.47 L423.43,259.17 L424.55,258.86 L425.67,258.56 L426.79,258.24 L427.91,257.92 L429.03,257.59 L430.15,257.26 L431.27,256.92 L432.39,256.58 L433.51,256.23 L434.63,255.87 L435.75,255.51 L436.87,255.14 L437.99,254.77 L439.11,254.38 L440.23,254.00 L441.35,253.60 L442.47,253.20 L443.59,252.79 L444.71,252.37 L445.83,251.95 L446.96,251.51 L448.08,251.07 L449.20,250.63 L450.32,250.17 L451.44,249.71 L452.56,249.24 L453.68,248.76 L454.80,248.27 L455.92,247.78 L457.04,247.28 L458.16,246.76 L459.28,246.24 L460.40,245.71 L461.52,245.17 L462.64,244.63 L463.76,244.07 L464.88,243.50 L466.00,242.93 L467.12,242.34 L468.24,241.75 L469.36,241.15 L470.48,240.53 L471.60,239.91 L472.73,239.28 L473.85,238.63 L474.97,237.98 L476.09,237.32 L477.21,236.64 L478.33,235.96 L479.45,235.27 L480.57,234.56 L481.69,233.84 L482.81,233.12 L483.93,232.38 L485.05,231.63 L486.17,230.87 L487.29,230.10 L488.41,229.32 L489.53,228.53 L490.65,227.73 L491.77,226.91 L492.89,226.08 L494.01,225.25 L495.13,224.40 L496.25,223.54 L497.37,222.66 L498.49,221.78 L499.62,220.88 L500.74,219.97 L501.86,219.05 L502.98,218.12 L504.10,217.18 L505.22,216.22 L506.34,215.26 L507.46,214.28 L508.58,213.29 L509.70,212.28 L510.82,211.27 L511.94,210.24 L513.06,209.20 L514.18,208.15 L515.30,207.09 L516.42,206.01 L517.54,204.93 L518.66,203.83 L519.78,202.72 L520.90,201.59 L522.02,200.46 L523.14,199.31 L524.26,198.15 L525.38,196.98 L526.50,195.80 L527.63,194.61 L528.75,193.40 L529.87,192.19 L530.99,190.96 L532.11,189.72 L533.23,188.47 L534.35,187.21 L535.47,185.93 L536.59,184.65 L537.71,183.35 L538.83,182.05 L539.95,180.73 L541.07,179.40 L542.19,178.06 L543.31,176.71 L544.43,175.35 L545.55,173.99 L546.67,172.61 L547.79,171.22 L548.91,169.82 L550.03,168.41 L551.15,166.99 L552.27,165.57 L553.39,164.13 L554.52,162.68 L555.64,161.23 L556.76,159.77 L557.88,158.30 L559.00,156.82 L560.12,155.33 L561.24,153.84 L562.36,152.33 L563.48,150.82 L564.60,149.31 L565.72,147.78 L566.84,146.25 L567.96,144.71 L569.08,143.17 L570.20,141.62 L571.32,140.06 L572.44,138.50 L573.56,136.93 L574.68,135.36 L575.80,133.78 L576.92,132.20 L578.04,130.61 L579.16,129.02 L580.28,127.43 L581.41,125.83 L582.53,124.23 L583.65,122.62 L584.77,121.01 L585.89,119.40 L587.01,117.79 L588.13,116.18 L589.25,114.56 L590.37,112.94 L591.49,111.32 L592.61,109.70 L593.73,108.08 L594.85,106.46 L595.97,104.84 L597.09,103.21 L598.21,101.59 L599.33,99.97 L600.45,98.35 L601.57,96.73 L602.69,95.12 L603.81,93.50 L604.93,91.89 L606.05,90.28 L607.17,88.67 L608.30,87.06 L609.42,85.46 L610.54,83.86 L611.66,82.27 L612.78,80.67 L613.90,79.09 L615.02,77.51 L616.14,75.93 L617.26,74.35 L618.38,72.79 L619.50,71.23 L620.62,69.67 L621.74,68.12 L622.86,66.57 L623.98,65.04 L625.10,63.51 L626.22,61.98 L627.34,60.47 L628.46,58.96 L629.58,57.45 L630.70,55.96 L631.82,54.47 L632.94,53.00 L634.06,51.53 L635.19,50.07 L636.31,48.62 L637.43,47.17 L638.55,45.74 L639.67,44.32 L640.79,42.90 L641.91,41.50 L643.03,40.10 L644.15,38.72 L645.27,37.34 L646.39,35.98 L647.51,34.63 L648.63,33.28 L649.75,31.95 L650.87,30.63 L651.99,29.32 L653.11,28.02 L654.23,26.73 L655.35,25.45 L656.47,24.19 L657.59,22.93 L658.71,21.69 L659.83,20.46 L660.95,19.23 L662.08,18.03 L663.20,16.83 L664.32,15.64 L665.44,14.47 L666.56,13.31 L667.68,12.16 L668.80,11.02 L669.92,9.89 L671.04,8.78 L672.16,7.67 L673.28,6.58 L674.40,5.50" fill="none" stroke="#b747a8" stroke-width="1.7" stroke-dasharray="2 5.6 2 5.6 6.3 5.6"/>
<path d="M405.50,5.50 L406.62,6.59 L407.74,7.73 L408.86,8.90 L409.98,10.11 L411.10,11.36 L412.22,12.65 L413.34,13.97 L414.46,15.33 L415.58,16.72 L416.70,18.15 L417.82,19.60 L418.94,21.09 L420.07,22.61 L421.19,24.16 L422.31,25.74 L423.43,27.35 L424.55,28.99 L425.67,30.65 L426.79,32.34 L427.91,34.05 L429.03,35.78 L430.15,37.54 L431.27,39.32 L432.39,41.11 L433.51,42.93 L434.63,44.77 L435.75,46.62 L436.87,48.49 L437.99,50.37 L439.11,52.27 L440.23,54.18 L441.35,56.11 L442.47,58.04 L443.59,59.99 L444.71,61.94 L445.83,63.91 L446.96,65.88 L448.08,67.86 L449.20,69.84 L450.32,71.83 L451.44,73.82 L452.56,75.81 L453.68,77.81 L454.80,79.81 L455.92,81.81 L457.04,83.81 L458.16,85.80 L459.28,87.80 L460.40,89.79 L461.52,91.78 L462.64,93.76 L463.76,95.74 L464.88,97.72 L466.00,99.69 L467.12,101.65 L468.24,103.60 L469.36,105.55 L470.48,107.48 L471.60,109.41 L472.73,111.33 L473.85,113.23 L474.97,115.13 L476.09,117.01 L477.21,118.89 L478.33,120.75 L479.45,122.60 L480.57,124.43 L481.69,126.25 L482.81,128.06 L483.93,129.85 L485.05,131.63 L486.17,133.39 L487.29,135.14 L488.41,136.87 L489.53,138.59 L490.65,140.29 L491.77,141.98 L492.89,143.65 L494.01,145.30 L495.13,146.93 L496.25,148.55 L497.37,150.15 L498.49,151.74 L499.62,153.30 L500.74,154.85 L501.86,156.38 L502.98,157.90 L504.10,159.39 L505.22,160.87 L506.34,162.33 L507.46,163.78 L508.58,165.20 L509.70,166.61 L510.82,168.00 L511.94,169.37 L513.06,170.73 L514.18,172.06 L515.30,173.38 L516.42,174.69 L517.54,175.97 L518.66,177.24 L519.78,178.49 L520.90,179.72 L522.02,180.94 L523.14,182.14 L524.26,183.32 L525.38,184.48 L526.50,185.63 L527.63,186.76 L528.75,187.88 L529.87,188.98 L530.99,190.06 L532.11,191.13 L533.23,192.18 L534.35,193.22 L535.47,194.24 L536.59,195.25 L537.71,196.24 L538.83,197.22 L539.95,198.18 L541.07,199.13 L542.19,200.06 L543.31,200.98 L544.43,201.88 L545.55,202.77 L546.67,203.65 L547.79,204.52 L548.91,205.37 L550.03,206.21 L551.15,207.03 L552.27,207.85 L553.39,208.65 L554.52,209.44 L555.64,210.21 L556.76,210.98 L557.88,211.73 L559.00,212.48 L560.12,213.21 L561.24,213.93 L562.36,214.64 L563.48,215.34 L564.60,216.03 L565.72,216.71 L566.84,217.38 L567.96,218.04 L569.08,218.69 L570.20,219.33 L571.32,219.96 L572.44,220.58 L573.56,221.20 L574.68,221.81 L575.80,222.40 L576.92,222.99 L578.04,223.58 L579.16,224.15 L580.28,224.72 L581.41,225.28 L582.53,225.83 L583.65,226.38 L584.77,226.92 L585.89,227.45 L587.01,227.98 L588.13,228.50 L589.25,229.02 L590.37,229.53 L591.49,230.03 L592.61,230.53 L593.73,231.02 L594.85,231.51 L595.97,232.00 L597.09,232.48 L598.21,232.95 L599.33,233.42 L600.45,233.89 L601.57,234.35 L602.69,234.81 L603.81,235.27 L604.93,235.72 L606.05,236.17 L607.17,236.62 L608.30,237.07 L609.42,237.51 L610.54,237.95 L611.66,238.38 L612.78,238.82 L613.90,239.25 L615.02,239.68 L616.14,240.11 L617.26,240.54 L618.38,240.97 L619.50,241.40 L620.62,241.82 L621.74,242.24 L622.86,242.67 L623.98,243.09 L625.10,243.51 L626.22,243.94 L627.34,244.36 L628.46,244.78 L629.58,245.21 L630.70,245.63 L631.82,246.05 L632.94,246.48 L634.06,246.90 L635.19,247.33 L636.31,247.76 L637.43,248.19 L638.55,248.62 L639.67,249.05 L640.79,249.48 L641.91,249.91 L643.03,250.35 L644.15,250.79 L645.27,251.23 L646.39,251.67 L647.51,252.11 L648.63,252.56 L649.75,253.00 L650.87,253.45 L651.99,253.91 L653.11,254.36 L654.23,254.82 L655.35,255.27 L656.47,255.74 L657.59,256.20 L658.71,256.66 L659.83,257.13 L660.95,257.60 L662.08,258.08 L663.20,258.55 L664.32,259.03 L665.44,259.51 L666.56,259.99 L667.68,260.47 L668.80,260.95 L669.92,261.44 L671.04,261.93 L672.16,262.42 L673.28,262.91 L674.40,263.40" fill="none" stroke="#2085cf" stroke-width="1.7" stroke-dasharray="2.2 3.6 2.2 3.6 8.1 3.6 8.1 3.6 8.1 3.6"/>
<path d="M405.50,263.40 L406.62,263.32 L407.74,263.24 L408.86,263.16 L409.98,263.06 L411.10,262.96 L412.22,262.86 L413.34,262.75 L414.46,262.62 L415.58,262.50 L416.70,262.36 L417.82,262.21 L418.94,262.06 L420.07,261.90 L421.19,261.73 L422.31,261.54 L423.43,261.35 L424.55,261.15 L425.67,260.94 L426.79,260.71 L427.91,260.48 L429.03,260.23 L430.15,259.97 L431.27,259.70 L432.39,259.41 L433.51,259.11 L434.63,258.80 L435.75,258.47 L436.87,258.13 L437.99,257.78 L439.11,257.41 L440.23,257.02 L441.35,256.62 L442.47,256.20 L443.59,255.76 L444.71,255.31 L445.83,254.84 L446.96,254.35 L448.08,253.85 L449.20,253.33 L450.32,252.78 L451.44,252.22 L452.56,251.64 L453.68,251.04 L454.80,250.42 L455.92,249.78 L457.04,249.13 L458.16,248.45 L459.28,247.74 L460.40,247.02 L461.52,246.28 L462.64,245.52 L463.76,244.73 L464.88,243.93 L466.00,243.10 L467.12,242.25 L468.24,241.38 L469.36,240.48 L470.48,239.57 L471.60,238.63 L472.73,237.67 L473.85,236.69 L474.97,235.68 L476.09,234.66 L477.21,233.61 L478.33,232.54 L479.45,231.45 L480.57,230.34 L481.69,229.20 L482.81,228.05 L483.93,226.87 L485.05,225.68 L486.17,224.46 L487.29,223.22 L488.41,221.97 L489.53,220.69 L490.65,219.39 L491.77,218.08 L492.89,216.74 L494.01,215.39 L495.13,214.02 L496.25,212.63 L497.37,211.23 L498.49,209.81 L499.62,208.37 L500.74,206.91 L501.86,205.44 L502.98,203.96 L504.10,202.46 L505.22,200.95 L506.34,199.42 L507.46,197.89 L508.58,196.33 L509.70,194.77 L510.82,193.20 L511.94,191.61 L513.06,190.02 L514.18,188.42 L515.30,186.81 L516.42,185.19 L517.54,183.56 L518.66,181.92 L519.78,180.28 L520.90,178.64 L522.02,176.98 L523.14,175.33 L524.26,173.67 L525.38,172.00 L526.50,170.34 L527.63,168.67 L528.75,167.00 L529.87,165.32 L530.99,163.65 L532.11,161.98 L533.23,160.31 L534.35,158.64 L535.47,156.97 L536.59,155.30 L537.71,153.64 L538.83,151.98 L539.95,150.32 L541.07,148.67 L542.19,147.02 L543.31,145.38 L544.43,143.74 L545.55,142.11 L546.67,140.48 L547.79,138.86 L548.91,137.25 L550.03,135.65 L551.15,134.05 L552.27,132.47 L553.39,130.89 L554.52,129.32 L555.64,127.76 L556.76,126.21 L557.88,124.66 L559.00,123.13 L560.12,121.61 L561.24,120.10 L562.36,118.60 L563.48,117.11 L564.60,115.63 L565.72,114.16 L566.84,112.71 L567.96,111.26 L569.08,109.83 L570.20,108.40 L571.32,106.99 L572.44,105.59 L573.56,104.21 L574.68,102.83 L575.80,101.46 L576.92,100.11 L578.04,98.77 L579.16,97.44 L580.28,96.12 L581.41,94.81 L582.53,93.52 L583.65,92.23 L584.77,90.96 L585.89,89.69 L587.01,88.44 L588.13,87.20 L589.25,85.97 L590.37,84.75 L591.49,83.54 L592.61,82.34 L593.73,81.15 L594.85,79.97 L595.97,78.79 L597.09,77.63 L598.21,76.48 L599.33,75.34 L600.45,74.20 L601.57,73.07 L602.69,71.95 L603.81,70.84 L604.93,69.74 L606.05,68.64 L607.17,67.55 L608.30,66.47 L609.42,65.39 L610.54,64.32 L611.66,63.25 L612.78,62.19 L613.90,61.14 L615.02,60.09 L616.14,59.05 L617.26,58.01 L618.38,56.97 L619.50,55.94 L620.62,54.91 L621.74,53.89 L622.86,52.87 L623.98,51.85 L625.10,50.83 L626.22,49.82 L627.34,48.81 L628.46,47.80 L629.58,46.79 L630.70,45.78 L631.82,44.78 L632.94,43.77 L634.06,42.77 L635.19,41.76 L636.31,40.76 L637.43,39.75 L638.55,38.74 L639.67,37.74 L640.79,36.73 L641.91,35.72 L643.03,34.71 L644.15,33.70 L645.27,32.69 L646.39,31.67 L647.51,30.65 L648.63,29.64 L649.75,28.61 L650.87,27.59 L651.99,26.56 L653.11,25.54 L654.23,24.51 L655.35,23.47 L656.47,22.44 L657.59,21.40 L658.71,20.35 L659.83,19.31 L660.95,18.26 L662.08,17.21 L663.20,16.16 L664.32,15.10 L665.44,14.04 L666.56,12.98 L667.68,11.92 L668.80,10.85 L669.92,9.79 L671.04,8.72 L672.16,7.65 L673.28,6.57 L674.40,5.50" fill="none" stroke="#2085cf" stroke-width="1.7" stroke-dasharray="2.2 3.6 2.2 3.6 8.1 3.6 8.1 3.6 8.1 3.6"/>
<path d="M405.50,5.50 L406.62,6.58 L407.74,7.66 L408.86,8.76 L409.98,9.86 L411.10,10.97 L412.22,12.09 L413.34,13.22 L414.46,14.36 L415.58,15.51 L416.70,16.66 L417.82,17.83 L418.94,19.00 L420.07,20.19 L421.19,21.38 L422.31,22.58 L423.43,23.80 L424.55,25.02 L425.67,26.25 L426.79,27.50 L427.91,28.75 L429.03,30.01 L430.15,31.29 L431.27,32.57 L432.39,33.86 L433.51,35.16 L434.63,36.48 L435.75,37.80 L436.87,39.13 L437.99,40.48 L439.11,41.83 L440.23,43.19 L441.35,44.56 L442.47,45.94 L443.59,47.33 L444.71,48.73 L445.83,50.14 L446.96,51.56 L448.08,52.99 L449.20,54.42 L450.32,55.87 L451.44,57.32 L452.56,58.78 L453.68,60.25 L454.80,61.73 L455.92,63.22 L457.04,64.71 L458.16,66.21 L459.28,67.72 L460.40,69.24 L461.52,70.76 L462.64,72.29 L463.76,73.82 L464.88,75.37 L466.00,76.91 L467.12,78.47 L468.24,80.03 L469.36,81.59 L470.48,83.16 L471.60,84.73 L472.73,86.31 L473.85,87.89 L474.97,89.48 L476.09,91.07 L477.21,92.66 L478.33,94.26 L479.45,95.86 L480.57,97.46 L481.69,99.07 L482.81,100.67 L483.93,102.28 L485.05,103.89 L486.17,105.50 L487.29,107.11 L488.41,108.73 L489.53,110.34 L490.65,111.95 L491.77,113.56 L492.89,115.17 L494.01,116.78 L495.13,118.39 L496.25,120.00 L497.37,121.61 L498.49,123.21 L499.62,124.81 L500.74,126.41 L501.86,128.01 L502.98,129.60 L504.10,131.19 L505.22,132.78 L506.34,134.36 L507.46,135.93 L508.58,137.51 L509.70,139.07 L510.82,140.64 L511.94,142.19 L513.06,143.75 L514.18,145.29 L515.30,146.83 L516.42,148.36 L517.54,149.89 L518.66,151.41 L519.78,152.92 L520.90,154.43 L522.02,155.92 L523.14,157.41 L524.26,158.90 L525.38,160.37 L526.50,161.83 L527.63,163.29 L528.75,164.74 L529.87,166.17 L530.99,167.60 L532.11,169.02 L533.23,170.43 L534.35,171.83 L535.47,173.22 L536.59,174.60 L537.71,175.97 L538.83,177.33 L539.95,178.68 L541.07,180.02 L542.19,181.35 L543.31,182.66 L544.43,183.97 L545.55,185.26 L546.67,186.55 L547.79,187.82 L548.91,189.08 L550.03,190.33 L551.15,191.57 L552.27,192.79 L553.39,194.00 L554.52,195.21 L555.64,196.39 L556.76,197.57 L557.88,198.74 L559.00,199.89 L560.12,201.03 L561.24,202.16 L562.36,203.28 L563.48,204.38 L564.60,205.48 L565.72,206.56 L566.84,207.62 L567.96,208.68 L569.08,209.72 L570.20,210.75 L571.32,211.77 L572.44,212.78 L573.56,213.77 L574.68,214.75 L575.80,215.72 L576.92,216.68 L578.04,217.62 L579.16,218.56 L580.28,219.48 L581.41,220.39 L582.53,221.28 L583.65,222.17 L584.77,223.04 L585.89,223.90 L587.01,224.75 L588.13,225.59 L589.25,226.41 L590.37,227.23 L591.49,228.03 L592.61,228.82 L593.73,229.60 L594.85,230.37 L595.97,231.13 L597.09,231.88 L598.21,232.61 L599.33,233.34 L600.45,234.05 L601.57,234.75 L602.69,235.45 L603.81,236.13 L604.93,236.80 L606.05,237.46 L607.17,238.12 L608.30,238.76 L609.42,239.39 L610.54,240.01 L611.66,240.62 L612.78,241.23 L613.90,241.82 L615.02,242.40 L616.14,242.98 L617.26,243.55 L618.38,244.10 L619.50,244.65 L620.62,245.19 L621.74,245.72 L622.86,246.24 L623.98,246.76 L625.10,247.26 L626.22,247.76 L627.34,248.25 L628.46,248.73 L629.58,249.21 L630.70,249.67 L631.82,250.13 L632.94,250.58 L634.06,251.03 L635.19,251.47 L636.31,251.90 L637.43,252.32 L638.55,252.74 L639.67,253.15 L640.79,253.55 L641.91,253.95 L643.03,254.35 L644.15,254.73 L645.27,255.11 L646.39,255.49 L647.51,255.86 L648.63,256.22 L649.75,256.58 L650.87,256.93 L651.99,257.28 L653.11,257.62 L654.23,257.96 L655.35,258.30 L656.47,258.63 L657.59,258.95 L658.71,259.27 L659.83,259.59 L660.95,259.90 L662.08,260.21 L663.20,260.52 L664.32,260.82 L665.44,261.12 L666.56,261.41 L667.68,261.71 L668.80,262.00 L669.92,262.28 L671.04,262.56 L672.16,262.85 L673.28,263.12 L674.40,263.40" fill="none" stroke="#2459b0" stroke-width="1.7"/>
<path d="M405.50,263.40 L406.62,263.16 L407.74,262.91 L408.86,262.66 L409.98,262.40 L411.10,262.14 L412.22,261.88 L413.34,261.61 L414.46,261.34 L415.58,261.07 L416.70,260.79 L417.82,260.50 L418.94,260.21 L420.07,259.92 L421.19,259.62 L422.31,259.31 L423.43,259.00 L424.55,258.68 L425.67,258.36 L426.79,258.04 L427.91,257.70 L429.03,257.36 L430.15,257.02 L431.27,256.67 L432.39,256.31 L433.51,255.95 L434.63,255.57 L435.75,255.20 L436.87,254.81 L437.99,254.42 L439.11,254.02 L440.23,253.62 L441.35,253.20 L442.47,252.78 L443.59,252.36 L444.71,251.92 L445.83,251.48 L446.96,251.02 L448.08,250.56 L449.20,250.09 L450.32,249.62 L451.44,249.13 L452.56,248.64 L453.68,248.14 L454.80,247.62 L455.92,247.10 L457.04,246.57 L458.16,246.03 L459.28,245.48 L460.40,244.93 L461.52,244.36 L462.64,243.78 L463.76,243.19 L464.88,242.59 L466.00,241.98 L467.12,241.37 L468.24,240.74 L469.36,240.10 L470.48,239.45 L471.60,238.79 L472.73,238.12 L473.85,237.43 L474.97,236.74 L476.09,236.04 L477.21,235.32 L478.33,234.59 L479.45,233.85 L480.57,233.10 L481.69,232.34 L482.81,231.57 L483.93,230.78 L485.05,229.99 L486.17,229.18 L487.29,228.36 L488.41,227.52 L489.53,226.68 L490.65,225.82 L491.77,224.95 L492.89,224.07 L494.01,223.18 L495.13,222.27 L496.25,221.35 L497.37,220.42 L498.49,219.48 L499.62,218.52 L500.74,217.55 L501.86,216.57 L502.98,215.58 L504.10,214.57 L505.22,213.55 L506.34,212.52 L507.46,211.48 L508.58,210.42 L509.70,209.35 L510.82,208.27 L511.94,207.17 L513.06,206.07 L514.18,204.95 L515.30,203.82 L516.42,202.67 L517.54,201.52 L518.66,200.35 L519.78,199.17 L520.90,197.97 L522.02,196.77 L523.14,195.55 L524.26,194.32 L525.38,193.08 L526.50,191.83 L527.63,190.57 L528.75,189.29 L529.87,188.01 L530.99,186.71 L532.11,185.40 L533.23,184.08 L534.35,182.75 L535.47,181.41 L536.59,180.06 L537.71,178.70 L538.83,177.32 L539.95,175.94 L541.07,174.55 L542.19,173.15 L543.31,171.74 L544.43,170.31 L545.55,168.89 L546.67,167.45 L547.79,166.00 L548.91,164.54 L550.03,163.08 L551.15,161.61 L552.27,160.13 L553.39,158.64 L554.52,157.14 L555.64,155.64 L556.76,154.13 L557.88,152.62 L559.00,151.10 L560.12,149.57 L561.24,148.03 L562.36,146.49 L563.48,144.95 L564.60,143.40 L565.72,141.84 L566.84,140.28 L567.96,138.72 L569.08,137.15 L570.20,135.58 L571.32,134.00 L572.44,132.42 L573.56,130.84 L574.68,129.26 L575.80,127.67 L576.92,126.08 L578.04,124.49 L579.16,122.90 L580.28,121.31 L581.41,119.72 L582.53,118.12 L583.65,116.53 L584.77,114.93 L585.89,113.34 L587.01,111.74 L588.13,110.15 L589.25,108.56 L590.37,106.97 L591.49,105.38 L592.61,103.79 L593.73,102.21 L594.85,100.63 L595.97,99.05 L597.09,97.47 L598.21,95.90 L599.33,94.33 L600.45,92.76 L601.57,91.20 L602.69,89.65 L603.81,88.09 L604.93,86.55 L606.05,85.00 L607.17,83.47 L608.30,81.94 L609.42,80.41 L610.54,78.89 L611.66,77.38 L612.78,75.87 L613.90,74.37 L615.02,72.88 L616.14,71.39 L617.26,69.91 L618.38,68.44 L619.50,66.97 L620.62,65.52 L621.74,64.07 L622.86,62.62 L623.98,61.19 L625.10,59.77 L626.22,58.35 L627.34,56.94 L628.46,55.54 L629.58,54.15 L630.70,52.77 L631.82,51.39 L632.94,50.03 L634.06,48.67 L635.19,47.32 L636.31,45.98 L637.43,44.66 L638.55,43.34 L639.67,42.02 L640.79,40.72 L641.91,39.43 L643.03,38.15 L644.15,36.87 L645.27,35.60 L646.39,34.35 L647.51,33.10 L648.63,31.86 L649.75,30.63 L650.87,29.41 L651.99,28.19 L653.11,26.99 L654.23,25.79 L655.35,24.61 L656.47,23.43 L657.59,22.25 L658.71,21.09 L659.83,19.93 L660.95,18.78 L662.08,17.64 L663.20,16.51 L664.32,15.38 L665.44,14.26 L666.56,13.14 L667.68,12.04 L668.80,10.93 L669.92,9.84 L671.04,8.74 L672.16,7.66 L673.28,6.58 L674.40,5.50" fill="none" stroke="#2459b0" stroke-width="1.7"/>
<rect x="593.4" y="119.9" width="110.80" height="56.50" fill="#fff" stroke="#444" stroke-width="0.8"/>
<path d="M596.9721033210332,126.96 H636.6621402214022" stroke="#2085cf" stroke-width="1.7" stroke-dasharray="1.79 2.88 1.79 2.88 6.45 2.88 6.45 2.88 6.45 2.88"/>
<text transform="translate(639.64,131.20) scale(0.7236487132087296,1)" font-family='"Liberation Sans", sans-serif' class="sn" font-size="11.89222352481438" text-anchor="start" font-weight="normal" >Linear fit</text>
<path d="M596.9721033210332,141.09 H636.6621402214022" stroke="#2459b0" stroke-width="1.7"/>
<text transform="translate(639.64,145.32) scale(0.7236487132087296,1)" font-family='"Liberation Sans", sans-serif' class="sn" font-size="11.89222352481438" text-anchor="start" font-weight="normal" >Exponential fit</text>
<path d="M596.9721033210332,155.21 H635.1737638376384" stroke="#e5343c" stroke-width="1.7" stroke-dasharray="2.98 1.95"/>
<text transform="translate(639.64,159.45) scale(0.7236487132087296,1)" font-family='"Liberation Sans", sans-serif' class="sn" font-size="11.89222352481438" text-anchor="start" font-weight="normal" >Ideal</text>
<path d="M596.9721033210332,169.34 H636.6621402214022" stroke="#b747a8" stroke-width="1.7" stroke-dasharray="1.69 4.66 1.69 4.66 5.26 4.66"/>
<text transform="translate(639.64,173.57) scale(0.7236487132087296,1)" font-family='"Liberation Sans", sans-serif' class="sn" font-size="11.89222352481438" text-anchor="start" font-weight="normal" >Wang et al. [19]</text>
<text transform="translate(381,166) rotate(-90) scale(1.216,1)" font-family='"Liberation Serif", serif' font-size="11.71" text-anchor="middle" class="sa">Activity</text>
<text transform="translate(521.6,299) scale(0.709,1)" font-family='"Liberation Serif", serif' font-size="13.91" class="sf">x<tspan font-size="7.66" dy="5.24" dx="0.4">Mg</tspan></text>
<text transform="translate(530.70,320.80) scale(0.7581081757424787,1)" font-family='"Liberation Sans", sans-serif' class="sn" font-size="11.993005080109418" text-anchor="middle" font-weight="normal" >(b)</text>
<text transform="translate(442.8,86.7) scale(0.650,1)" font-family='"Liberation Sans", sans-serif' font-size="12.70" class="sn">a<tspan font-family='"Liberation Serif", serif' font-size="8.57" dy="4.23" dx="0.3" class="sb">Li</tspan></text>
<text transform="translate(620,84.2) scale(0.650,1)" font-family='"Liberation Sans", sans-serif' font-size="12.70" class="sn">a<tspan font-family='"Liberation Serif", serif' font-size="8.57" dy="4.23" dx="0.3" class="sb">Mg</tspan></text></g>
<g><path d="M39.90,369.20 V634.40 H309.40" fill="none" stroke="#737373" stroke-width="1"/>
<path d="M35.60,634.40 H39.90 M39.90,634.40 V639.70 M35.60,581.36 H39.90 M93.80,634.40 V639.70 M35.60,528.32 H39.90 M147.70,634.40 V639.70 M35.60,475.28 H39.90 M201.60,634.40 V639.70 M35.60,422.24 H39.90 M255.50,634.40 V639.70 M35.60,369.20 H39.90 M309.40,634.40 V639.70" fill="none" stroke="#737373" stroke-width="1"/>
<text transform="translate(33.70,638.60) scale(0.7292892922141891,1)" font-family='"Liberation Sans", sans-serif' class="sn" font-size="11.81430246189918" text-anchor="end" font-weight="normal" >0</text>
<text transform="translate(33.70,585.56) scale(0.7292892922141891,1)" font-family='"Liberation Sans", sans-serif' class="sn" font-size="11.81430246189918" text-anchor="end" font-weight="normal" >0.2</text>
<text transform="translate(93.80,654.00) scale(0.7292892922141891,1)" font-family='"Liberation Sans", sans-serif' class="sn" font-size="11.81430246189918" text-anchor="middle" font-weight="normal" >0.2</text>
<text transform="translate(33.70,532.52) scale(0.7292892922141891,1)" font-family='"Liberation Sans", sans-serif' class="sn" font-size="11.81430246189918" text-anchor="end" font-weight="normal" >0.4</text>
<text transform="translate(147.70,654.00) scale(0.7292892922141891,1)" font-family='"Liberation Sans", sans-serif' class="sn" font-size="11.81430246189918" text-anchor="middle" font-weight="normal" >0.4</text>
<text transform="translate(33.70,479.48) scale(0.7292892922141891,1)" font-family='"Liberation Sans", sans-serif' class="sn" font-size="11.81430246189918" text-anchor="end" font-weight="normal" >0.6</text>
<text transform="translate(201.60,654.00) scale(0.7292892922141891,1)" font-family='"Liberation Sans", sans-serif' class="sn" font-size="11.81430246189918" text-anchor="middle" font-weight="normal" >0.6</text>
<text transform="translate(33.70,426.44) scale(0.7292892922141891,1)" font-family='"Liberation Sans", sans-serif' class="sn" font-size="11.81430246189918" text-anchor="end" font-weight="normal" >0.8</text>
<text transform="translate(255.50,654.00) scale(0.7292892922141891,1)" font-family='"Liberation Sans", sans-serif' class="sn" font-size="11.81430246189918" text-anchor="middle" font-weight="normal" >0.8</text>
<text transform="translate(33.70,373.40) scale(0.7292892922141891,1)" font-family='"Liberation Sans", sans-serif' class="sn" font-size="11.81430246189918" text-anchor="end" font-weight="normal" >1</text>
<text transform="translate(309.40,654.00) scale(0.7292892922141891,1)" font-family='"Liberation Sans", sans-serif' class="sn" font-size="11.81430246189918" text-anchor="middle" font-weight="normal" >1</text>
<path d="M39.90,369.20 L309.40,634.40" fill="none" stroke="#e5343c" stroke-width="1.7" stroke-dasharray="3.6 2.35"/>
<path d="M39.90,634.40 L309.40,369.20" fill="none" stroke="#e5343c" stroke-width="1.7" stroke-dasharray="3.6 2.35"/>
<path d="M39.90,369.20 L41.02,370.31 L42.15,371.43 L43.27,372.57 L44.39,373.71 L45.51,374.87 L46.64,376.04 L47.76,377.22 L48.88,378.42 L50.01,379.62 L51.13,380.84 L52.25,382.07 L53.38,383.32 L54.50,384.57 L55.62,385.84 L56.74,387.12 L57.87,388.42 L58.99,389.73 L60.11,391.05 L61.24,392.38 L62.36,393.72 L63.48,395.08 L64.60,396.45 L65.73,397.84 L66.85,399.23 L67.97,400.64 L69.10,402.06 L70.22,403.50 L71.34,404.94 L72.46,406.40 L73.59,407.87 L74.71,409.35 L75.83,410.84 L76.96,412.35 L78.08,413.87 L79.20,415.39 L80.32,416.93 L81.45,418.48 L82.57,420.05 L83.69,421.62 L84.82,423.20 L85.94,424.79 L87.06,426.40 L88.19,428.01 L89.31,429.64 L90.43,431.27 L91.55,432.91 L92.68,434.56 L93.80,436.22 L94.92,437.89 L96.05,439.57 L97.17,441.25 L98.29,442.95 L99.41,444.65 L100.54,446.36 L101.66,448.07 L102.78,449.79 L103.91,451.52 L105.03,453.25 L106.15,454.99 L107.28,456.74 L108.40,458.49 L109.52,460.24 L110.64,462.00 L111.77,463.77 L112.89,465.53 L114.01,467.31 L115.14,469.08 L116.26,470.86 L117.38,472.64 L118.50,474.42 L119.63,476.20 L120.75,477.99 L121.87,479.77 L123.00,481.56 L124.12,483.35 L125.24,485.13 L126.36,486.92 L127.49,488.70 L128.61,490.49 L129.73,492.27 L130.86,494.05 L131.98,495.83 L133.10,497.61 L134.22,499.38 L135.35,501.15 L136.47,502.92 L137.59,504.68 L138.72,506.44 L139.84,508.20 L140.96,509.94 L142.09,511.69 L143.21,513.43 L144.33,515.16 L145.45,516.88 L146.58,518.60 L147.70,520.31 L148.82,522.02 L149.95,523.72 L151.07,525.40 L152.19,527.09 L153.31,528.76 L154.44,530.42 L155.56,532.07 L156.68,533.72 L157.81,535.35 L158.93,536.98 L160.05,538.59 L161.18,540.20 L162.30,541.79 L163.42,543.37 L164.54,544.94 L165.67,546.50 L166.79,548.05 L167.91,549.58 L169.04,551.10 L170.16,552.61 L171.28,554.11 L172.40,555.59 L173.53,557.06 L174.65,558.52 L175.77,559.96 L176.90,561.39 L178.02,562.81 L179.14,564.21 L180.26,565.60 L181.39,566.97 L182.51,568.33 L183.63,569.67 L184.76,571.00 L185.88,572.32 L187.00,573.62 L188.13,574.90 L189.25,576.17 L190.37,577.42 L191.49,578.66 L192.62,579.88 L193.74,581.09 L194.86,582.28 L195.99,583.45 L197.11,584.61 L198.23,585.76 L199.35,586.88 L200.48,588.00 L201.60,589.09 L202.72,590.17 L203.85,591.24 L204.97,592.29 L206.09,593.32 L207.21,594.33 L208.34,595.34 L209.46,596.32 L210.58,597.29 L211.71,598.24 L212.83,599.18 L213.95,600.10 L215.08,601.01 L216.20,601.90 L217.32,602.77 L218.44,603.63 L219.57,604.48 L220.69,605.31 L221.81,606.12 L222.94,606.92 L224.06,607.70 L225.18,608.47 L226.30,609.23 L227.43,609.97 L228.55,610.69 L229.67,611.40 L230.80,612.10 L231.92,612.78 L233.04,613.45 L234.16,614.10 L235.29,614.74 L236.41,615.37 L237.53,615.98 L238.66,616.58 L239.78,617.16 L240.90,617.74 L242.03,618.30 L243.15,618.85 L244.27,619.38 L245.39,619.90 L246.52,620.41 L247.64,620.91 L248.76,621.39 L249.89,621.87 L251.01,622.33 L252.13,622.78 L253.25,623.22 L254.38,623.65 L255.50,624.07 L256.62,624.47 L257.75,624.87 L258.87,625.25 L259.99,625.63 L261.11,625.99 L262.24,626.35 L263.36,626.69 L264.48,627.03 L265.61,627.35 L266.73,627.67 L267.85,627.98 L268.97,628.27 L270.10,628.56 L271.22,628.84 L272.34,629.12 L273.47,629.38 L274.59,629.64 L275.71,629.89 L276.84,630.13 L277.96,630.36 L279.08,630.58 L280.20,630.80 L281.33,631.01 L282.45,631.22 L283.57,631.41 L284.70,631.60 L285.82,631.79 L286.94,631.97 L288.06,632.14 L289.19,632.30 L290.31,632.46 L291.43,632.62 L292.56,632.76 L293.68,632.91 L294.80,633.04 L295.92,633.18 L297.05,633.30 L298.17,633.42 L299.29,633.54 L300.42,633.65 L301.54,633.76 L302.66,633.87 L303.79,633.96 L304.91,634.06 L306.03,634.15 L307.15,634.24 L308.28,634.32 L309.40,634.40" fill="none" stroke="#b747a8" stroke-width="1.7" stroke-dasharray="2 5.6 2 5.6 6.3 5.6"/>
<path d="M39.90,634.40 L41.02,634.18 L42.15,633.95 L43.27,633.71 L44.39,633.47 L45.51,633.22 L46.64,632.96 L47.76,632.70 L48.88,632.43 L50.01,632.16 L51.13,631.88 L52.25,631.59 L53.38,631.30 L54.50,631.00 L55.62,630.69 L56.74,630.37 L57.87,630.05 L58.99,629.72 L60.11,629.39 L61.24,629.04 L62.36,628.69 L63.48,628.33 L64.60,627.97 L65.73,627.59 L66.85,627.21 L67.97,626.82 L69.10,626.42 L70.22,626.02 L71.34,625.61 L72.46,625.18 L73.59,624.75 L74.71,624.32 L75.83,623.87 L76.96,623.42 L78.08,622.95 L79.20,622.48 L80.32,622.00 L81.45,621.51 L82.57,621.01 L83.69,620.51 L84.82,619.99 L85.94,619.47 L87.06,618.93 L88.19,618.39 L89.31,617.84 L90.43,617.28 L91.55,616.71 L92.68,616.13 L93.80,615.54 L94.92,614.94 L96.05,614.33 L97.17,613.71 L98.29,613.09 L99.41,612.45 L100.54,611.80 L101.66,611.14 L102.78,610.48 L103.91,609.80 L105.03,609.11 L106.15,608.42 L107.28,607.71 L108.40,606.99 L109.52,606.27 L110.64,605.53 L111.77,604.78 L112.89,604.02 L114.01,603.25 L115.14,602.47 L116.26,601.69 L117.38,600.89 L118.50,600.08 L119.63,599.25 L120.75,598.42 L121.87,597.58 L123.00,596.73 L124.12,595.87 L125.24,594.99 L126.36,594.11 L127.49,593.21 L128.61,592.31 L129.73,591.39 L130.86,590.46 L131.98,589.53 L133.10,588.58 L134.22,587.62 L135.35,586.65 L136.47,585.67 L137.59,584.68 L138.72,583.68 L139.84,582.66 L140.96,581.64 L142.09,580.61 L143.21,579.56 L144.33,578.51 L145.45,577.44 L146.58,576.36 L147.70,575.28 L148.82,574.18 L149.95,573.07 L151.07,571.95 L152.19,570.82 L153.31,569.68 L154.44,568.53 L155.56,567.37 L156.68,566.20 L157.81,565.02 L158.93,563.83 L160.05,562.63 L161.18,561.42 L162.30,560.20 L163.42,558.97 L164.54,557.73 L165.67,556.48 L166.79,555.22 L167.91,553.95 L169.04,552.67 L170.16,551.38 L171.28,550.08 L172.40,548.78 L173.53,547.46 L174.65,546.13 L175.77,544.80 L176.90,543.45 L178.02,542.10 L179.14,540.74 L180.26,539.37 L181.39,537.99 L182.51,536.60 L183.63,535.21 L184.76,533.80 L185.88,532.39 L187.00,530.97 L188.13,529.54 L189.25,528.11 L190.37,526.67 L191.49,525.22 L192.62,523.76 L193.74,522.29 L194.86,520.82 L195.99,519.34 L197.11,517.86 L198.23,516.36 L199.35,514.86 L200.48,513.36 L201.60,511.85 L202.72,510.33 L203.85,508.81 L204.97,507.28 L206.09,505.74 L207.21,504.20 L208.34,502.66 L209.46,501.11 L210.58,499.56 L211.71,498.00 L212.83,496.43 L213.95,494.86 L215.08,493.29 L216.20,491.72 L217.32,490.14 L218.44,488.55 L219.57,486.97 L220.69,485.38 L221.81,483.78 L222.94,482.19 L224.06,480.59 L225.18,478.99 L226.30,477.39 L227.43,475.78 L228.55,474.18 L229.67,472.57 L230.80,470.96 L231.92,469.35 L233.04,467.74 L234.16,466.13 L235.29,464.52 L236.41,462.91 L237.53,461.30 L238.66,459.69 L239.78,458.08 L240.90,456.47 L242.03,454.86 L243.15,453.25 L244.27,451.64 L245.39,450.04 L246.52,448.44 L247.64,446.84 L248.76,445.24 L249.89,443.64 L251.01,442.05 L252.13,440.46 L253.25,438.87 L254.38,437.29 L255.50,435.71 L256.62,434.14 L257.75,432.57 L258.87,431.00 L259.99,429.44 L261.11,427.89 L262.24,426.34 L263.36,424.79 L264.48,423.25 L265.61,421.72 L266.73,420.19 L267.85,418.67 L268.97,417.16 L270.10,415.65 L271.22,414.15 L272.34,412.66 L273.47,411.18 L274.59,409.70 L275.71,408.23 L276.84,406.77 L277.96,405.32 L279.08,403.88 L280.20,402.45 L281.33,401.03 L282.45,399.61 L283.57,398.21 L284.70,396.82 L285.82,395.43 L286.94,394.06 L288.06,392.70 L289.19,391.35 L290.31,390.01 L291.43,388.68 L292.56,387.37 L293.68,386.06 L294.80,384.77 L295.92,383.49 L297.05,382.23 L298.17,380.98 L299.29,379.74 L300.42,378.51 L301.54,377.30 L302.66,376.10 L303.79,374.91 L304.91,373.74 L306.03,372.58 L307.15,371.44 L308.28,370.31 L309.40,369.20" fill="none" stroke="#b747a8" stroke-width="1.7" stroke-dasharray="2 5.6 2 5.6 6.3 5.6"/>
<path d="M39.90,369.20 L41.02,370.33 L42.15,371.49 L43.27,372.70 L44.39,373.95 L45.51,375.24 L46.64,376.57 L47.76,377.94 L48.88,379.35 L50.01,380.79 L51.13,382.27 L52.25,383.78 L53.38,385.33 L54.50,386.91 L55.62,388.53 L56.74,390.18 L57.87,391.85 L58.99,393.56 L60.11,395.30 L61.24,397.06 L62.36,398.85 L63.48,400.66 L64.60,402.50 L65.73,404.36 L66.85,406.25 L67.97,408.15 L69.10,410.07 L70.22,412.02 L71.34,413.98 L72.46,415.95 L73.59,417.94 L74.71,419.94 L75.83,421.96 L76.96,423.99 L78.08,426.03 L79.20,428.07 L80.32,430.13 L81.45,432.19 L82.57,434.26 L83.69,436.33 L84.82,438.41 L85.94,440.49 L87.06,442.57 L88.19,444.65 L89.31,446.73 L90.43,448.81 L91.55,450.89 L92.68,452.96 L93.80,455.03 L94.92,457.09 L96.05,459.15 L97.17,461.20 L98.29,463.25 L99.41,465.28 L100.54,467.31 L101.66,469.33 L102.78,471.33 L103.91,473.33 L105.03,475.31 L106.15,477.28 L107.28,479.24 L108.40,481.18 L109.52,483.11 L110.64,485.03 L111.77,486.93 L112.89,488.81 L114.01,490.68 L115.14,492.53 L116.26,494.37 L117.38,496.18 L118.50,497.98 L119.63,499.76 L120.75,501.53 L121.87,503.27 L123.00,505.00 L124.12,506.70 L125.24,508.39 L126.36,510.06 L127.49,511.70 L128.61,513.33 L129.73,514.94 L130.86,516.53 L131.98,518.09 L133.10,519.64 L134.22,521.17 L135.35,522.68 L136.47,524.16 L137.59,525.63 L138.72,527.07 L139.84,528.50 L140.96,529.90 L142.09,531.29 L143.21,532.65 L144.33,534.00 L145.45,535.32 L146.58,536.62 L147.70,537.91 L148.82,539.17 L149.95,540.42 L151.07,541.65 L152.19,542.85 L153.31,544.04 L154.44,545.21 L155.56,546.36 L156.68,547.49 L157.81,548.60 L158.93,549.70 L160.05,550.77 L161.18,551.83 L162.30,552.87 L163.42,553.89 L164.54,554.90 L165.67,555.89 L166.79,556.86 L167.91,557.82 L169.04,558.76 L170.16,559.68 L171.28,560.59 L172.40,561.49 L173.53,562.36 L174.65,563.23 L175.77,564.08 L176.90,564.91 L178.02,565.73 L179.14,566.53 L180.26,567.33 L181.39,568.11 L182.51,568.87 L183.63,569.62 L184.76,570.37 L185.88,571.09 L187.00,571.81 L188.13,572.51 L189.25,573.21 L190.37,573.89 L191.49,574.56 L192.62,575.22 L193.74,575.87 L194.86,576.51 L195.99,577.14 L197.11,577.76 L198.23,578.38 L199.35,578.98 L200.48,579.57 L201.60,580.16 L202.72,580.74 L203.85,581.31 L204.97,581.87 L206.09,582.43 L207.21,582.98 L208.34,583.52 L209.46,584.06 L210.58,584.59 L211.71,585.11 L212.83,585.63 L213.95,586.15 L215.08,586.66 L216.20,587.16 L217.32,587.66 L218.44,588.16 L219.57,588.65 L220.69,589.15 L221.81,589.63 L222.94,590.12 L224.06,590.60 L225.18,591.08 L226.30,591.56 L227.43,592.04 L228.55,592.51 L229.67,592.99 L230.80,593.46 L231.92,593.94 L233.04,594.41 L234.16,594.89 L235.29,595.36 L236.41,595.84 L237.53,596.32 L238.66,596.79 L239.78,597.28 L240.90,597.76 L242.03,598.24 L243.15,598.73 L244.27,599.22 L245.39,599.71 L246.52,600.21 L247.64,600.71 L248.76,601.21 L249.89,601.72 L251.01,602.24 L252.13,602.75 L253.25,603.27 L254.38,603.80 L255.50,604.33 L256.62,604.87 L257.75,605.41 L258.87,605.96 L259.99,606.51 L261.11,607.07 L262.24,607.64 L263.36,608.21 L264.48,608.79 L265.61,609.37 L266.73,609.96 L267.85,610.55 L268.97,611.16 L270.10,611.76 L271.22,612.38 L272.34,613.00 L273.47,613.62 L274.59,614.25 L275.71,614.89 L276.84,615.53 L277.96,616.18 L279.08,616.83 L280.20,617.49 L281.33,618.15 L282.45,618.81 L283.57,619.48 L284.70,620.15 L285.82,620.82 L286.94,621.49 L288.06,622.17 L289.19,622.85 L290.31,623.53 L291.43,624.20 L292.56,624.88 L293.68,625.55 L294.80,626.23 L295.92,626.90 L297.05,627.56 L298.17,628.22 L299.29,628.88 L300.42,629.53 L301.54,630.17 L302.66,630.81 L303.79,631.43 L304.91,632.05 L306.03,632.65 L307.15,633.25 L308.28,633.83 L309.40,634.40" fill="none" stroke="#2085cf" stroke-width="1.7" stroke-dasharray="2.2 3.6 2.2 3.6 8.1 3.6 8.1 3.6 8.1 3.6"/>
<path d="M39.90,634.40 L41.02,634.31 L42.15,634.21 L43.27,634.11 L44.39,633.99 L45.51,633.87 L46.64,633.74 L47.76,633.60 L48.88,633.46 L50.01,633.30 L51.13,633.13 L52.25,632.95 L53.38,632.76 L54.50,632.56 L55.62,632.34 L56.74,632.12 L57.87,631.88 L58.99,631.63 L60.11,631.36 L61.24,631.08 L62.36,630.78 L63.48,630.47 L64.60,630.14 L65.73,629.79 L66.85,629.43 L67.97,629.05 L69.10,628.65 L70.22,628.23 L71.34,627.80 L72.46,627.34 L73.59,626.87 L74.71,626.37 L75.83,625.85 L76.96,625.31 L78.08,624.75 L79.20,624.16 L80.32,623.56 L81.45,622.93 L82.57,622.27 L83.69,621.59 L84.82,620.89 L85.94,620.16 L87.06,619.40 L88.19,618.63 L89.31,617.82 L90.43,616.99 L91.55,616.13 L92.68,615.24 L93.80,614.33 L94.92,613.39 L96.05,612.43 L97.17,611.44 L98.29,610.42 L99.41,609.37 L100.54,608.29 L101.66,607.19 L102.78,606.06 L103.91,604.91 L105.03,603.72 L106.15,602.52 L107.28,601.28 L108.40,600.02 L109.52,598.73 L110.64,597.41 L111.77,596.07 L112.89,594.71 L114.01,593.32 L115.14,591.91 L116.26,590.47 L117.38,589.01 L118.50,587.53 L119.63,586.02 L120.75,584.50 L121.87,582.95 L123.00,581.38 L124.12,579.80 L125.24,578.19 L126.36,576.57 L127.49,574.93 L128.61,573.27 L129.73,571.60 L130.86,569.91 L131.98,568.21 L133.10,566.50 L134.22,564.77 L135.35,563.03 L136.47,561.28 L137.59,559.53 L138.72,557.76 L139.84,555.99 L140.96,554.20 L142.09,552.42 L143.21,550.63 L144.33,548.83 L145.45,547.03 L146.58,545.23 L147.70,543.43 L148.82,541.63 L149.95,539.82 L151.07,538.02 L152.19,536.22 L153.31,534.43 L154.44,532.64 L155.56,530.85 L156.68,529.07 L157.81,527.30 L158.93,525.53 L160.05,523.77 L161.18,522.02 L162.30,520.28 L163.42,518.55 L164.54,516.82 L165.67,515.12 L166.79,513.42 L167.91,511.73 L169.04,510.06 L170.16,508.40 L171.28,506.76 L172.40,505.13 L173.53,503.51 L174.65,501.91 L175.77,500.32 L176.90,498.76 L178.02,497.20 L179.14,495.67 L180.26,494.15 L181.39,492.64 L182.51,491.16 L183.63,489.69 L184.76,488.24 L185.88,486.81 L187.00,485.39 L188.13,483.99 L189.25,482.61 L190.37,481.25 L191.49,479.90 L192.62,478.57 L193.74,477.26 L194.86,475.97 L195.99,474.69 L197.11,473.43 L198.23,472.19 L199.35,470.96 L200.48,469.75 L201.60,468.56 L202.72,467.38 L203.85,466.21 L204.97,465.06 L206.09,463.93 L207.21,462.81 L208.34,461.70 L209.46,460.61 L210.58,459.53 L211.71,458.47 L212.83,457.41 L213.95,456.37 L215.08,455.34 L216.20,454.32 L217.32,453.31 L218.44,452.31 L219.57,451.32 L220.69,450.34 L221.81,449.37 L222.94,448.41 L224.06,447.45 L225.18,446.50 L226.30,445.56 L227.43,444.62 L228.55,443.69 L229.67,442.77 L230.80,441.84 L231.92,440.93 L233.04,440.01 L234.16,439.10 L235.29,438.20 L236.41,437.29 L237.53,436.39 L238.66,435.48 L239.78,434.58 L240.90,433.68 L242.03,432.77 L243.15,431.87 L244.27,430.96 L245.39,430.06 L246.52,429.15 L247.64,428.23 L248.76,427.32 L249.89,426.40 L251.01,425.48 L252.13,424.55 L253.25,423.62 L254.38,422.68 L255.50,421.74 L256.62,420.79 L257.75,419.84 L258.87,418.88 L259.99,417.91 L261.11,416.94 L262.24,415.96 L263.36,414.97 L264.48,413.98 L265.61,412.98 L266.73,411.97 L267.85,410.95 L268.97,409.92 L270.10,408.89 L271.22,407.84 L272.34,406.79 L273.47,405.73 L274.59,404.66 L275.71,403.59 L276.84,402.50 L277.96,401.41 L279.08,400.31 L280.20,399.20 L281.33,398.09 L282.45,396.97 L283.57,395.84 L284.70,394.70 L285.82,393.56 L286.94,392.41 L288.06,391.25 L289.19,390.09 L290.31,388.93 L291.43,387.76 L292.56,386.59 L293.68,385.42 L294.80,384.24 L295.92,383.06 L297.05,381.89 L298.17,380.71 L299.29,379.53 L300.42,378.36 L301.54,377.19 L302.66,376.03 L303.79,374.87 L304.91,373.72 L306.03,372.57 L307.15,371.44 L308.28,370.31 L309.40,369.20" fill="none" stroke="#2085cf" stroke-width="1.7" stroke-dasharray="2.2 3.6 2.2 3.6 8.1 3.6 8.1 3.6 8.1 3.6"/>
<path d="M39.90,369.20 L41.02,370.31 L42.15,371.43 L43.27,372.55 L44.39,373.69 L45.51,374.83 L46.64,375.99 L47.76,377.15 L48.88,378.32 L50.01,379.50 L51.13,380.69 L52.25,381.88 L53.38,383.09 L54.50,384.30 L55.62,385.53 L56.74,386.76 L57.87,388.00 L58.99,389.25 L60.11,390.50 L61.24,391.77 L62.36,393.05 L63.48,394.33 L64.60,395.62 L65.73,396.92 L66.85,398.23 L67.97,399.54 L69.10,400.87 L70.22,402.20 L71.34,403.54 L72.46,404.88 L73.59,406.24 L74.71,407.60 L75.83,408.97 L76.96,410.35 L78.08,411.73 L79.20,413.12 L80.32,414.52 L81.45,415.93 L82.57,417.34 L83.69,418.76 L84.82,420.18 L85.94,421.61 L87.06,423.05 L88.19,424.49 L89.31,425.94 L90.43,427.40 L91.55,428.86 L92.68,430.32 L93.80,431.79 L94.92,433.27 L96.05,434.75 L97.17,436.24 L98.29,437.73 L99.41,439.22 L100.54,440.72 L101.66,442.22 L102.78,443.73 L103.91,445.23 L105.03,446.75 L106.15,448.26 L107.28,449.78 L108.40,451.30 L109.52,452.83 L110.64,454.35 L111.77,455.88 L112.89,457.41 L114.01,458.95 L115.14,460.48 L116.26,462.02 L117.38,463.55 L118.50,465.09 L119.63,466.63 L120.75,468.17 L121.87,469.71 L123.00,471.25 L124.12,472.79 L125.24,474.33 L126.36,475.87 L127.49,477.41 L128.61,478.95 L129.73,480.48 L130.86,482.02 L131.98,483.55 L133.10,485.08 L134.22,486.62 L135.35,488.14 L136.47,489.67 L137.59,491.19 L138.72,492.72 L139.84,494.23 L140.96,495.75 L142.09,497.26 L143.21,498.77 L144.33,500.28 L145.45,501.78 L146.58,503.27 L147.70,504.77 L148.82,506.26 L149.95,507.74 L151.07,509.22 L152.19,510.70 L153.31,512.17 L154.44,513.63 L155.56,515.09 L156.68,516.54 L157.81,517.99 L158.93,519.43 L160.05,520.87 L161.18,522.30 L162.30,523.72 L163.42,525.14 L164.54,526.55 L165.67,527.95 L166.79,529.35 L167.91,530.74 L169.04,532.12 L170.16,533.49 L171.28,534.86 L172.40,536.22 L173.53,537.57 L174.65,538.92 L175.77,540.25 L176.90,541.58 L178.02,542.90 L179.14,544.21 L180.26,545.52 L181.39,546.81 L182.51,548.10 L183.63,549.37 L184.76,550.64 L185.88,551.90 L187.00,553.15 L188.13,554.40 L189.25,555.63 L190.37,556.85 L191.49,558.06 L192.62,559.27 L193.74,560.46 L194.86,561.65 L195.99,562.83 L197.11,563.99 L198.23,565.15 L199.35,566.30 L200.48,567.43 L201.60,568.56 L202.72,569.68 L203.85,570.79 L204.97,571.89 L206.09,572.97 L207.21,574.05 L208.34,575.12 L209.46,576.18 L210.58,577.23 L211.71,578.26 L212.83,579.29 L213.95,580.31 L215.08,581.32 L216.20,582.32 L217.32,583.30 L218.44,584.28 L219.57,585.25 L220.69,586.21 L221.81,587.16 L222.94,588.09 L224.06,589.02 L225.18,589.94 L226.30,590.85 L227.43,591.75 L228.55,592.63 L229.67,593.51 L230.80,594.38 L231.92,595.24 L233.04,596.09 L234.16,596.93 L235.29,597.75 L236.41,598.57 L237.53,599.38 L238.66,600.18 L239.78,600.98 L240.90,601.76 L242.03,602.53 L243.15,603.29 L244.27,604.05 L245.39,604.79 L246.52,605.52 L247.64,606.25 L248.76,606.97 L249.89,607.67 L251.01,608.37 L252.13,609.06 L253.25,609.74 L254.38,610.42 L255.50,611.08 L256.62,611.74 L257.75,612.38 L258.87,613.02 L259.99,613.65 L261.11,614.27 L262.24,614.89 L263.36,615.49 L264.48,616.09 L265.61,616.68 L266.73,617.26 L267.85,617.83 L268.97,618.40 L270.10,618.96 L271.22,619.51 L272.34,620.05 L273.47,620.59 L274.59,621.12 L275.71,621.64 L276.84,622.15 L277.96,622.66 L279.08,623.16 L280.20,623.65 L281.33,624.14 L282.45,624.62 L283.57,625.09 L284.70,625.56 L285.82,626.02 L286.94,626.48 L288.06,626.93 L289.19,627.37 L290.31,627.80 L291.43,628.24 L292.56,628.66 L293.68,629.08 L294.80,629.49 L295.92,629.90 L297.05,630.30 L298.17,630.70 L299.29,631.09 L300.42,631.48 L301.54,631.86 L302.66,632.24 L303.79,632.61 L304.91,632.98 L306.03,633.34 L307.15,633.70 L308.28,634.05 L309.40,634.40" fill="none" stroke="#2459b0" stroke-width="1.7"/>
<path d="M39.90,634.40 L41.02,634.07 L42.15,633.74 L43.27,633.40 L44.39,633.06 L45.51,632.71 L46.64,632.36 L47.76,632.00 L48.88,631.63 L50.01,631.26 L51.13,630.89 L52.25,630.50 L53.38,630.11 L54.50,629.72 L55.62,629.32 L56.74,628.91 L57.87,628.49 L58.99,628.07 L60.11,627.65 L61.24,627.21 L62.36,626.77 L63.48,626.32 L64.60,625.87 L65.73,625.40 L66.85,624.93 L67.97,624.46 L69.10,623.97 L70.22,623.48 L71.34,622.98 L72.46,622.48 L73.59,621.96 L74.71,621.44 L75.83,620.91 L76.96,620.37 L78.08,619.82 L79.20,619.27 L80.32,618.71 L81.45,618.13 L82.57,617.56 L83.69,616.97 L84.82,616.37 L85.94,615.77 L87.06,615.15 L88.19,614.53 L89.31,613.90 L90.43,613.26 L91.55,612.61 L92.68,611.95 L93.80,611.28 L94.92,610.60 L96.05,609.92 L97.17,609.22 L98.29,608.52 L99.41,607.80 L100.54,607.08 L101.66,606.34 L102.78,605.60 L103.91,604.85 L105.03,604.08 L106.15,603.31 L107.28,602.53 L108.40,601.74 L109.52,600.93 L110.64,600.12 L111.77,599.30 L112.89,598.47 L114.01,597.63 L115.14,596.77 L116.26,595.91 L117.38,595.04 L118.50,594.15 L119.63,593.26 L120.75,592.36 L121.87,591.44 L123.00,590.52 L124.12,589.59 L125.24,588.64 L126.36,587.69 L127.49,586.72 L128.61,585.75 L129.73,584.76 L130.86,583.76 L131.98,582.76 L133.10,581.74 L134.22,580.71 L135.35,579.68 L136.47,578.63 L137.59,577.57 L138.72,576.50 L139.84,575.43 L140.96,574.34 L142.09,573.24 L143.21,572.13 L144.33,571.02 L145.45,569.89 L146.58,568.75 L147.70,567.60 L148.82,566.44 L149.95,565.28 L151.07,564.10 L152.19,562.91 L153.31,561.72 L154.44,560.51 L155.56,559.30 L156.68,558.07 L157.81,556.84 L158.93,555.60 L160.05,554.35 L161.18,553.09 L162.30,551.82 L163.42,550.54 L164.54,549.25 L165.67,547.96 L166.79,546.66 L167.91,545.34 L169.04,544.02 L170.16,542.70 L171.28,541.36 L172.40,540.02 L173.53,538.66 L174.65,537.31 L175.77,535.94 L176.90,534.56 L178.02,533.18 L179.14,531.80 L180.26,530.40 L181.39,529.00 L182.51,527.59 L183.63,526.18 L184.76,524.76 L185.88,523.33 L187.00,521.90 L188.13,520.46 L189.25,519.01 L190.37,517.56 L191.49,516.11 L192.62,514.65 L193.74,513.18 L194.86,511.71 L195.99,510.24 L197.11,508.76 L198.23,507.28 L199.35,505.79 L200.48,504.30 L201.60,502.81 L202.72,501.31 L203.85,499.81 L204.97,498.30 L206.09,496.80 L207.21,495.29 L208.34,493.78 L209.46,492.26 L210.58,490.75 L211.71,489.23 L212.83,487.71 L213.95,486.18 L215.08,484.66 L216.20,483.14 L217.32,481.61 L218.44,480.09 L219.57,478.56 L220.69,477.03 L221.81,475.51 L222.94,473.98 L224.06,472.46 L225.18,470.93 L226.30,469.40 L227.43,467.88 L228.55,466.36 L229.67,464.83 L230.80,463.31 L231.92,461.80 L233.04,460.28 L234.16,458.76 L235.29,457.25 L236.41,455.74 L237.53,454.23 L238.66,452.73 L239.78,451.22 L240.90,449.73 L242.03,448.23 L243.15,446.74 L244.27,445.25 L245.39,443.76 L246.52,442.28 L247.64,440.81 L248.76,439.33 L249.89,437.86 L251.01,436.40 L252.13,434.94 L253.25,433.49 L254.38,432.04 L255.50,430.60 L256.62,429.16 L257.75,427.73 L258.87,426.30 L259.99,424.88 L261.11,423.46 L262.24,422.05 L263.36,420.65 L264.48,419.25 L265.61,417.86 L266.73,416.48 L267.85,415.10 L268.97,413.73 L270.10,412.36 L271.22,411.00 L272.34,409.65 L273.47,408.31 L274.59,406.97 L275.71,405.64 L276.84,404.32 L277.96,403.00 L279.08,401.69 L280.20,400.39 L281.33,399.10 L282.45,397.81 L283.57,396.54 L284.70,395.27 L285.82,394.00 L286.94,392.75 L288.06,391.50 L289.19,390.26 L290.31,389.02 L291.43,387.80 L292.56,386.58 L293.68,385.37 L294.80,384.17 L295.92,382.97 L297.05,381.78 L298.17,380.60 L299.29,379.43 L300.42,378.26 L301.54,377.11 L302.66,375.96 L303.79,374.81 L304.91,373.68 L306.03,372.55 L307.15,371.42 L308.28,370.31 L309.40,369.20" fill="none" stroke="#2459b0" stroke-width="1.7"/>
<rect x="228.4" y="486.5" width="111.20" height="62.00" fill="#fff" stroke="#444" stroke-width="0.8"/>
<path d="M231.980073800738,494.25 H271.7586715867159" stroke="#2085cf" stroke-width="1.7" stroke-dasharray="1.79 2.88 1.79 2.88 6.46 2.88 6.46 2.88 6.46 2.88"/>
<text transform="translate(274.74,498.60) scale(0.7052995128650381,1)" font-family='"Liberation Sans", sans-serif' class="sn" font-size="12.22883939038687" text-anchor="start" font-weight="normal" >Linear fit</text>
<path d="M231.980073800738,509.75 H271.7586715867159" stroke="#2459b0" stroke-width="1.7"/>
<text transform="translate(274.74,514.10) scale(0.7052995128650381,1)" font-family='"Liberation Sans", sans-serif' class="sn" font-size="12.22883939038687" text-anchor="start" font-weight="normal" >Exponential fit</text>
<path d="M231.980073800738,525.25 H270.26697416974173" stroke="#e5343c" stroke-width="1.7" stroke-dasharray="2.98 1.96"/>
<text transform="translate(274.74,529.60) scale(0.7052995128650381,1)" font-family='"Liberation Sans", sans-serif' class="sn" font-size="12.22883939038687" text-anchor="start" font-weight="normal" >Ideal</text>
<path d="M231.980073800738,540.75 H271.7586715867159" stroke="#b747a8" stroke-width="1.7" stroke-dasharray="1.69 4.67 1.69 4.67 5.27 4.67"/>
<text transform="translate(274.74,545.10) scale(0.7052995128650381,1)" font-family='"Liberation Sans", sans-serif' class="sn" font-size="12.22883939038687" text-anchor="start" font-weight="normal" >Wang et al. [19]</text>
<text transform="translate(15,533.5) rotate(-90) scale(1.247,1)" font-family='"Liberation Serif", serif' font-size="11.73" text-anchor="middle" class="sa">Activity</text>
<text transform="translate(156.2,671.2) scale(0.691,1)" font-family='"Liberation Serif", serif' font-size="14.30" class="sf">x<tspan font-size="7.88" dy="5.39" dx="0.4">Mg</tspan></text>
<text transform="translate(162.30,696.00) scale(0.7388852039538495,1)" font-family='"Liberation Sans", sans-serif' class="sn" font-size="12.332473622508791" text-anchor="middle" font-weight="normal" >(c)</text>
<text transform="translate(70,442) scale(0.633,1)" font-family='"Liberation Sans", sans-serif' font-size="13.06" class="sn">a<tspan font-family='"Liberation Serif", serif' font-size="8.81" dy="4.35" dx="0.3" class="sb">Li</tspan></text>
<text transform="translate(254,458.5) scale(0.633,1)" font-family='"Liberation Sans", sans-serif' font-size="13.06" class="sn">a<tspan font-family='"Liberation Serif", serif' font-size="8.81" dy="4.35" dx="0.3" class="sb">Mg</tspan></text></g>
<g><path d="M411.50,374.70 V630.40 H699.50" fill="none" stroke="#737373" stroke-width="1"/>
<path d="M407.20,630.40 H411.50 M411.50,630.40 V635.70 M407.20,579.26 H411.50 M469.10,630.40 V635.70 M407.20,528.12 H411.50 M526.70,630.40 V635.70 M407.20,476.98 H411.50 M584.30,630.40 V635.70 M407.20,425.84 H411.50 M641.90,630.40 V635.70 M407.20,374.70 H411.50 M699.50,630.40 V635.70" fill="none" stroke="#737373" stroke-width="1"/>
<text transform="translate(405.30,634.60) scale(0.8083070133790897,1)" font-family='"Liberation Sans", sans-serif' class="sn" font-size="11.391090269636576" text-anchor="end" font-weight="normal" >0</text>
<text transform="translate(405.30,583.46) scale(0.8083070133790897,1)" font-family='"Liberation Sans", sans-serif' class="sn" font-size="11.391090269636576" text-anchor="end" font-weight="normal" >0.2</text>
<text transform="translate(469.10,650.00) scale(0.8083070133790897,1)" font-family='"Liberation Sans", sans-serif' class="sn" font-size="11.391090269636576" text-anchor="middle" font-weight="normal" >0.2</text>
<text transform="translate(405.30,532.32) scale(0.8083070133790897,1)" font-family='"Liberation Sans", sans-serif' class="sn" font-size="11.391090269636576" text-anchor="end" font-weight="normal" >0.4</text>
<text transform="translate(526.70,650.00) scale(0.8083070133790897,1)" font-family='"Liberation Sans", sans-serif' class="sn" font-size="11.391090269636576" text-anchor="middle" font-weight="normal" >0.4</text>
<text transform="translate(405.30,481.18) scale(0.8083070133790897,1)" font-family='"Liberation Sans", sans-serif' class="sn" font-size="11.391090269636576" text-anchor="end" font-weight="normal" >0.6</text>
<text transform="translate(584.30,650.00) scale(0.8083070133790897,1)" font-family='"Liberation Sans", sans-serif' class="sn" font-size="11.391090269636576" text-anchor="middle" font-weight="normal" >0.6</text>
<text transform="translate(405.30,430.04) scale(0.8083070133790897,1)" font-family='"Liberation Sans", sans-serif' class="sn" font-size="11.391090269636576" text-anchor="end" font-weight="normal" >0.8</text>
<text transform="translate(641.90,650.00) scale(0.8083070133790897,1)" font-family='"Liberation Sans", sans-serif' class="sn" font-size="11.391090269636576" text-anchor="middle" font-weight="normal" >0.8</text>
<text transform="translate(405.30,378.90) scale(0.8083070133790897,1)" font-family='"Liberation Sans", sans-serif' class="sn" font-size="11.391090269636576" text-anchor="end" font-weight="normal" >1</text>
<text transform="translate(699.50,650.00) scale(0.8083070133790897,1)" font-family='"Liberation Sans", sans-serif' class="sn" font-size="11.391090269636576" text-anchor="middle" font-weight="normal" >1</text>
<path d="M411.50,374.70 L699.50,630.40" fill="none" stroke="#e5343c" stroke-width="1.7" stroke-dasharray="3.6 2.35"/>
<path d="M411.50,630.40 L699.50,374.70" fill="none" stroke="#e5343c" stroke-width="1.7" stroke-dasharray="3.6 2.35"/>
<path d="M411.50,374.70 L412.70,375.77 L413.90,376.83 L415.10,377.90 L416.30,378.96 L417.50,380.03 L418.70,381.10 L419.90,382.16 L421.10,383.24 L422.30,384.31 L423.50,385.39 L424.70,386.47 L425.90,387.55 L427.10,388.63 L428.30,389.72 L429.50,390.82 L430.70,391.92 L431.90,393.02 L433.10,394.13 L434.30,395.24 L435.50,396.36 L436.70,397.48 L437.90,398.61 L439.10,399.75 L440.30,400.89 L441.50,402.04 L442.70,403.19 L443.90,404.36 L445.10,405.52 L446.30,406.70 L447.50,407.88 L448.70,409.07 L449.90,410.27 L451.10,411.47 L452.30,412.68 L453.50,413.90 L454.70,415.13 L455.90,416.36 L457.10,417.60 L458.30,418.85 L459.50,420.11 L460.70,421.38 L461.90,422.65 L463.10,423.93 L464.30,425.22 L465.50,426.52 L466.70,427.82 L467.90,429.13 L469.10,430.45 L470.30,431.78 L471.50,433.12 L472.70,434.46 L473.90,435.81 L475.10,437.17 L476.30,438.54 L477.50,439.91 L478.70,441.29 L479.90,442.68 L481.10,444.07 L482.30,445.47 L483.50,446.88 L484.70,448.29 L485.90,449.72 L487.10,451.14 L488.30,452.58 L489.50,454.01 L490.70,455.46 L491.90,456.91 L493.10,458.37 L494.30,459.83 L495.50,461.29 L496.70,462.77 L497.90,464.24 L499.10,465.72 L500.30,467.21 L501.50,468.70 L502.70,470.19 L503.90,471.68 L505.10,473.18 L506.30,474.69 L507.50,476.19 L508.70,477.70 L509.90,479.21 L511.10,480.72 L512.30,482.24 L513.50,483.75 L514.70,485.27 L515.90,486.79 L517.10,488.31 L518.30,489.83 L519.50,491.35 L520.70,492.87 L521.90,494.39 L523.10,495.91 L524.30,497.43 L525.50,498.95 L526.70,500.47 L527.90,501.99 L529.10,503.50 L530.30,505.01 L531.50,506.52 L532.70,508.03 L533.90,509.53 L535.10,511.03 L536.30,512.53 L537.50,514.03 L538.70,515.52 L539.90,517.00 L541.10,518.49 L542.30,519.96 L543.50,521.44 L544.70,522.90 L545.90,524.37 L547.10,525.82 L548.30,527.27 L549.50,528.72 L550.70,530.16 L551.90,531.59 L553.10,533.01 L554.30,534.43 L555.50,535.84 L556.70,537.25 L557.90,538.64 L559.10,540.03 L560.30,541.41 L561.50,542.78 L562.70,544.14 L563.90,545.50 L565.10,546.84 L566.30,548.18 L567.50,549.51 L568.70,550.83 L569.90,552.14 L571.10,553.43 L572.30,554.72 L573.50,556.00 L574.70,557.27 L575.90,558.53 L577.10,559.78 L578.30,561.02 L579.50,562.25 L580.70,563.46 L581.90,564.67 L583.10,565.86 L584.30,567.05 L585.50,568.22 L586.70,569.38 L587.90,570.53 L589.10,571.67 L590.30,572.80 L591.50,573.91 L592.70,575.02 L593.90,576.11 L595.10,577.19 L596.30,578.26 L597.50,579.31 L598.70,580.36 L599.90,581.39 L601.10,582.41 L602.30,583.42 L603.50,584.42 L604.70,585.41 L605.90,586.38 L607.10,587.34 L608.30,588.29 L609.50,589.23 L610.70,590.15 L611.90,591.06 L613.10,591.97 L614.30,592.86 L615.50,593.73 L616.70,594.60 L617.90,595.45 L619.10,596.29 L620.30,597.12 L621.50,597.94 L622.70,598.75 L623.90,599.55 L625.10,600.33 L626.30,601.10 L627.50,601.86 L628.70,602.61 L629.90,603.35 L631.10,604.08 L632.30,604.79 L633.50,605.50 L634.70,606.19 L635.90,606.88 L637.10,607.55 L638.30,608.21 L639.50,608.86 L640.70,609.50 L641.90,610.13 L643.10,610.75 L644.30,611.36 L645.50,611.96 L646.70,612.55 L647.90,613.13 L649.10,613.70 L650.30,614.26 L651.50,614.81 L652.70,615.35 L653.90,615.89 L655.10,616.41 L656.30,616.92 L657.50,617.43 L658.70,617.92 L659.90,618.41 L661.10,618.89 L662.30,619.36 L663.50,619.82 L664.70,620.27 L665.90,620.72 L667.10,621.16 L668.30,621.59 L669.50,622.01 L670.70,622.42 L671.90,622.83 L673.10,623.23 L674.30,623.62 L675.50,624.00 L676.70,624.38 L677.90,624.75 L679.10,625.12 L680.30,625.48 L681.50,625.83 L682.70,626.17 L683.90,626.51 L685.10,626.84 L686.30,627.17 L687.50,627.49 L688.70,627.80 L689.90,628.11 L691.10,628.42 L692.30,628.72 L693.50,629.01 L694.70,629.30 L695.90,629.58 L697.10,629.86 L698.30,630.13 L699.50,630.40" fill="none" stroke="#b747a8" stroke-width="1.7" stroke-dasharray="2 5.6 2 5.6 6.3 5.6"/>
<path d="M411.50,630.40 L412.70,630.02 L413.90,629.63 L415.10,629.25 L416.30,628.87 L417.50,628.49 L418.70,628.10 L419.90,627.72 L421.10,627.33 L422.30,626.95 L423.50,626.56 L424.70,626.17 L425.90,625.78 L427.10,625.38 L428.30,624.99 L429.50,624.59 L430.70,624.19 L431.90,623.79 L433.10,623.38 L434.30,622.98 L435.50,622.56 L436.70,622.15 L437.90,621.73 L439.10,621.31 L440.30,620.88 L441.50,620.46 L442.70,620.02 L443.90,619.58 L445.10,619.14 L446.30,618.70 L447.50,618.25 L448.70,617.79 L449.90,617.33 L451.10,616.86 L452.30,616.39 L453.50,615.92 L454.70,615.43 L455.90,614.95 L457.10,614.45 L458.30,613.95 L459.50,613.45 L460.70,612.94 L461.90,612.42 L463.10,611.89 L464.30,611.36 L465.50,610.83 L466.70,610.28 L467.90,609.73 L469.10,609.17 L470.30,608.60 L471.50,608.03 L472.70,607.45 L473.90,606.86 L475.10,606.26 L476.30,605.66 L477.50,605.05 L478.70,604.43 L479.90,603.80 L481.10,603.16 L482.30,602.52 L483.50,601.86 L484.70,601.20 L485.90,600.53 L487.10,599.85 L488.30,599.16 L489.50,598.46 L490.70,597.75 L491.90,597.04 L493.10,596.31 L494.30,595.57 L495.50,594.83 L496.70,594.07 L497.90,593.31 L499.10,592.53 L500.30,591.75 L501.50,590.95 L502.70,590.15 L503.90,589.33 L505.10,588.51 L506.30,587.67 L507.50,586.82 L508.70,585.97 L509.90,585.10 L511.10,584.22 L512.30,583.33 L513.50,582.43 L514.70,581.52 L515.90,580.60 L517.10,579.67 L518.30,578.73 L519.50,577.77 L520.70,576.81 L521.90,575.83 L523.10,574.85 L524.30,573.85 L525.50,572.84 L526.70,571.82 L527.90,570.79 L529.10,569.75 L530.30,568.69 L531.50,567.63 L532.70,566.55 L533.90,565.46 L535.10,564.37 L536.30,563.26 L537.50,562.14 L538.70,561.01 L539.90,559.86 L541.10,558.71 L542.30,557.55 L543.50,556.37 L544.70,555.19 L545.90,553.99 L547.10,552.78 L548.30,551.56 L549.50,550.34 L550.70,549.10 L551.90,547.85 L553.10,546.59 L554.30,545.32 L555.50,544.04 L556.70,542.75 L557.90,541.45 L559.10,540.14 L560.30,538.82 L561.50,537.49 L562.70,536.15 L563.90,534.80 L565.10,533.44 L566.30,532.08 L567.50,530.70 L568.70,529.32 L569.90,527.93 L571.10,526.52 L572.30,525.12 L573.50,523.70 L574.70,522.27 L575.90,520.84 L577.10,519.40 L578.30,517.95 L579.50,516.49 L580.70,515.03 L581.90,513.56 L583.10,512.09 L584.30,510.61 L585.50,509.12 L586.70,507.62 L587.90,506.12 L589.10,504.62 L590.30,503.11 L591.50,501.59 L592.70,500.07 L593.90,498.54 L595.10,497.01 L596.30,495.48 L597.50,493.94 L598.70,492.40 L599.90,490.86 L601.10,489.31 L602.30,487.76 L603.50,486.21 L604.70,484.65 L605.90,483.09 L607.10,481.53 L608.30,479.97 L609.50,478.41 L610.70,476.85 L611.90,475.29 L613.10,473.72 L614.30,472.16 L615.50,470.59 L616.70,469.03 L617.90,467.46 L619.10,465.90 L620.30,464.34 L621.50,462.78 L622.70,461.22 L623.90,459.67 L625.10,458.11 L626.30,456.56 L627.50,455.01 L628.70,453.47 L629.90,451.92 L631.10,450.39 L632.30,448.85 L633.50,447.32 L634.70,445.79 L635.90,444.27 L637.10,442.75 L638.30,441.24 L639.50,439.73 L640.70,438.23 L641.90,436.73 L643.10,435.24 L644.30,433.76 L645.50,432.28 L646.70,430.81 L647.90,429.35 L649.10,427.89 L650.30,426.44 L651.50,425.00 L652.70,423.56 L653.90,422.13 L655.10,420.71 L656.30,419.30 L657.50,417.90 L658.70,416.50 L659.90,415.12 L661.10,413.74 L662.30,412.37 L663.50,411.01 L664.70,409.66 L665.90,408.32 L667.10,406.99 L668.30,405.66 L669.50,404.35 L670.70,403.04 L671.90,401.75 L673.10,400.47 L674.30,399.19 L675.50,397.93 L676.70,396.67 L677.90,395.43 L679.10,394.19 L680.30,392.96 L681.50,391.75 L682.70,390.54 L683.90,389.35 L685.10,388.16 L686.30,386.99 L687.50,385.82 L688.70,384.67 L689.90,383.52 L691.10,382.39 L692.30,381.26 L693.50,380.14 L694.70,379.03 L695.90,377.94 L697.10,376.85 L698.30,375.77 L699.50,374.70" fill="none" stroke="#b747a8" stroke-width="1.7" stroke-dasharray="2 5.6 2 5.6 6.3 5.6"/>
<path d="M411.50,374.70 L412.70,375.79 L413.90,376.91 L415.10,378.08 L416.30,379.28 L417.50,380.52 L418.70,381.80 L419.90,383.12 L421.10,384.47 L422.30,385.86 L423.50,387.28 L424.70,388.73 L425.90,390.22 L427.10,391.74 L428.30,393.29 L429.50,394.87 L430.70,396.47 L431.90,398.11 L433.10,399.77 L434.30,401.46 L435.50,403.17 L436.70,404.91 L437.90,406.66 L439.10,408.44 L440.30,410.24 L441.50,412.06 L442.70,413.90 L443.90,415.75 L445.10,417.62 L446.30,419.50 L447.50,421.40 L448.70,423.31 L449.90,425.24 L451.10,427.17 L452.30,429.11 L453.50,431.06 L454.70,433.02 L455.90,434.99 L457.10,436.96 L458.30,438.93 L459.50,440.91 L460.70,442.89 L461.90,444.87 L463.10,446.86 L464.30,448.84 L465.50,450.82 L466.70,452.80 L467.90,454.78 L469.10,456.75 L470.30,458.72 L471.50,460.68 L472.70,462.64 L473.90,464.59 L475.10,466.53 L476.30,468.47 L477.50,470.39 L478.70,472.31 L479.90,474.22 L481.10,476.11 L482.30,478.00 L483.50,479.87 L484.70,481.73 L485.90,483.58 L487.10,485.41 L488.30,487.23 L489.50,489.04 L490.70,490.83 L491.90,492.60 L493.10,494.36 L494.30,496.11 L495.50,497.84 L496.70,499.55 L497.90,501.24 L499.10,502.92 L500.30,504.58 L501.50,506.22 L502.70,507.85 L503.90,509.46 L505.10,511.05 L506.30,512.62 L507.50,514.17 L508.70,515.71 L509.90,517.22 L511.10,518.72 L512.30,520.20 L513.50,521.66 L514.70,523.10 L515.90,524.53 L517.10,525.93 L518.30,527.32 L519.50,528.68 L520.70,530.03 L521.90,531.36 L523.10,532.67 L524.30,533.96 L525.50,535.23 L526.70,536.49 L527.90,537.73 L529.10,538.95 L530.30,540.15 L531.50,541.33 L532.70,542.49 L533.90,543.64 L535.10,544.77 L536.30,545.88 L537.50,546.98 L538.70,548.06 L539.90,549.12 L541.10,550.16 L542.30,551.19 L543.50,552.20 L544.70,553.20 L545.90,554.18 L547.10,555.14 L548.30,556.09 L549.50,557.02 L550.70,557.94 L551.90,558.84 L553.10,559.73 L554.30,560.60 L555.50,561.46 L556.70,562.31 L557.90,563.14 L559.10,563.96 L560.30,564.77 L561.50,565.56 L562.70,566.34 L563.90,567.11 L565.10,567.86 L566.30,568.60 L567.50,569.33 L568.70,570.05 L569.90,570.76 L571.10,571.46 L572.30,572.14 L573.50,572.82 L574.70,573.49 L575.90,574.14 L577.10,574.79 L578.30,575.42 L579.50,576.05 L580.70,576.67 L581.90,577.28 L583.10,577.88 L584.30,578.47 L585.50,579.05 L586.70,579.63 L587.90,580.20 L589.10,580.76 L590.30,581.31 L591.50,581.86 L592.70,582.40 L593.90,582.93 L595.10,583.46 L596.30,583.99 L597.50,584.50 L598.70,585.02 L599.90,585.52 L601.10,586.03 L602.30,586.52 L603.50,587.02 L604.70,587.51 L605.90,588.00 L607.10,588.48 L608.30,588.96 L609.50,589.44 L610.70,589.91 L611.90,590.38 L613.10,590.85 L614.30,591.32 L615.50,591.79 L616.70,592.25 L617.90,592.72 L619.10,593.18 L620.30,593.64 L621.50,594.10 L622.70,594.57 L623.90,595.03 L625.10,595.49 L626.30,595.96 L627.50,596.42 L628.70,596.89 L629.90,597.35 L631.10,597.82 L632.30,598.29 L633.50,598.76 L634.70,599.24 L635.90,599.72 L637.10,600.20 L638.30,600.68 L639.50,601.17 L640.70,601.66 L641.90,602.15 L643.10,602.65 L644.30,603.15 L645.50,603.65 L646.70,604.16 L647.90,604.68 L649.10,605.19 L650.30,605.72 L651.50,606.24 L652.70,606.78 L653.90,607.31 L655.10,607.86 L656.30,608.40 L657.50,608.96 L658.70,609.52 L659.90,610.08 L661.10,610.65 L662.30,611.22 L663.50,611.80 L664.70,612.38 L665.90,612.97 L667.10,613.57 L668.30,614.17 L669.50,614.77 L670.70,615.38 L671.90,615.99 L673.10,616.60 L674.30,617.22 L675.50,617.85 L676.70,618.47 L677.90,619.10 L679.10,619.74 L680.30,620.37 L681.50,621.01 L682.70,621.64 L683.90,622.28 L685.10,622.92 L686.30,623.56 L687.50,624.20 L688.70,624.83 L689.90,625.47 L691.10,626.10 L692.30,626.73 L693.50,627.36 L694.70,627.98 L695.90,628.59 L697.10,629.20 L698.30,629.80 L699.50,630.40" fill="none" stroke="#2085cf" stroke-width="1.7" stroke-dasharray="2.2 3.6 2.2 3.6 8.1 3.6 8.1 3.6 8.1 3.6"/>
<path d="M411.50,630.40 L412.70,630.31 L413.90,630.21 L415.10,630.11 L416.30,630.00 L417.50,629.88 L418.70,629.75 L419.90,629.61 L421.10,629.46 L422.30,629.31 L423.50,629.14 L424.70,628.97 L425.90,628.78 L427.10,628.58 L428.30,628.37 L429.50,628.15 L430.70,627.91 L431.90,627.67 L433.10,627.40 L434.30,627.13 L435.50,626.84 L436.70,626.53 L437.90,626.21 L439.10,625.88 L440.30,625.53 L441.50,625.16 L442.70,624.77 L443.90,624.37 L445.10,623.95 L446.30,623.51 L447.50,623.05 L448.70,622.57 L449.90,622.07 L451.10,621.55 L452.30,621.01 L453.50,620.45 L454.70,619.87 L455.90,619.26 L457.10,618.63 L458.30,617.98 L459.50,617.31 L460.70,616.62 L461.90,615.90 L463.10,615.16 L464.30,614.39 L465.50,613.60 L466.70,612.78 L467.90,611.94 L469.10,611.08 L470.30,610.19 L471.50,609.27 L472.70,608.33 L473.90,607.37 L475.10,606.38 L476.30,605.36 L477.50,604.32 L478.70,603.26 L479.90,602.17 L481.10,601.05 L482.30,599.91 L483.50,598.74 L484.70,597.55 L485.90,596.34 L487.10,595.10 L488.30,593.84 L489.50,592.56 L490.70,591.25 L491.90,589.92 L493.10,588.57 L494.30,587.19 L495.50,585.80 L496.70,584.38 L497.90,582.95 L499.10,581.49 L500.30,580.02 L501.50,578.52 L502.70,577.01 L503.90,575.48 L505.10,573.94 L506.30,572.38 L507.50,570.80 L508.70,569.21 L509.90,567.61 L511.10,565.99 L512.30,564.36 L513.50,562.72 L514.70,561.06 L515.90,559.40 L517.10,557.73 L518.30,556.05 L519.50,554.36 L520.70,552.67 L521.90,550.97 L523.10,549.26 L524.30,547.55 L525.50,545.84 L526.70,544.13 L527.90,542.41 L529.10,540.69 L530.30,538.97 L531.50,537.25 L532.70,535.53 L533.90,533.82 L535.10,532.11 L536.30,530.40 L537.50,528.69 L538.70,526.99 L539.90,525.29 L541.10,523.61 L542.30,521.92 L543.50,520.25 L544.70,518.58 L545.90,516.93 L547.10,515.28 L548.30,513.64 L549.50,512.01 L550.70,510.39 L551.90,508.79 L553.10,507.19 L554.30,505.61 L555.50,504.04 L556.70,502.48 L557.90,500.94 L559.10,499.41 L560.30,497.89 L561.50,496.39 L562.70,494.91 L563.90,493.43 L565.10,491.98 L566.30,490.53 L567.50,489.11 L568.70,487.69 L569.90,486.30 L571.10,484.92 L572.30,483.55 L573.50,482.20 L574.70,480.87 L575.90,479.55 L577.10,478.24 L578.30,476.96 L579.50,475.68 L580.70,474.43 L581.90,473.18 L583.10,471.96 L584.30,470.74 L585.50,469.55 L586.70,468.36 L587.90,467.20 L589.10,466.04 L590.30,464.90 L591.50,463.77 L592.70,462.66 L593.90,461.56 L595.10,460.47 L596.30,459.39 L597.50,458.33 L598.70,457.27 L599.90,456.23 L601.10,455.20 L602.30,454.18 L603.50,453.17 L604.70,452.17 L605.90,451.18 L607.10,450.20 L608.30,449.22 L609.50,448.26 L610.70,447.30 L611.90,446.35 L613.10,445.41 L614.30,444.47 L615.50,443.54 L616.70,442.61 L617.90,441.69 L619.10,440.78 L620.30,439.87 L621.50,438.96 L622.70,438.06 L623.90,437.15 L625.10,436.26 L626.30,435.36 L627.50,434.47 L628.70,433.57 L629.90,432.68 L631.10,431.79 L632.30,430.90 L633.50,430.00 L634.70,429.11 L635.90,428.22 L637.10,427.32 L638.30,426.43 L639.50,425.53 L640.70,424.63 L641.90,423.72 L643.10,422.82 L644.30,421.91 L645.50,420.99 L646.70,420.07 L647.90,419.15 L649.10,418.22 L650.30,417.29 L651.50,416.35 L652.70,415.41 L653.90,414.46 L655.10,413.51 L656.30,412.55 L657.50,411.59 L658.70,410.62 L659.90,409.64 L661.10,408.66 L662.30,407.67 L663.50,406.67 L664.70,405.67 L665.90,404.66 L667.10,403.64 L668.30,402.62 L669.50,401.60 L670.70,400.56 L671.90,399.52 L673.10,398.48 L674.30,397.42 L675.50,396.37 L676.70,395.31 L677.90,394.24 L679.10,393.17 L680.30,392.09 L681.50,391.01 L682.70,389.93 L683.90,388.84 L685.10,387.75 L686.30,386.66 L687.50,385.57 L688.70,384.47 L689.90,383.38 L691.10,382.28 L692.30,381.19 L693.50,380.10 L694.70,379.01 L695.90,377.92 L697.10,376.84 L698.30,375.77 L699.50,374.70" fill="none" stroke="#2085cf" stroke-width="1.7" stroke-dasharray="2.2 3.6 2.2 3.6 8.1 3.6 8.1 3.6 8.1 3.6"/>
<path d="M411.50,374.70 L412.70,375.77 L413.90,376.84 L415.10,377.93 L416.30,379.01 L417.50,380.11 L418.70,381.21 L419.90,382.32 L421.10,383.44 L422.30,384.56 L423.50,385.69 L424.70,386.83 L425.90,387.98 L427.10,389.13 L428.30,390.29 L429.50,391.46 L430.70,392.63 L431.90,393.82 L433.10,395.01 L434.30,396.21 L435.50,397.41 L436.70,398.63 L437.90,399.85 L439.10,401.08 L440.30,402.32 L441.50,403.56 L442.70,404.82 L443.90,406.08 L445.10,407.34 L446.30,408.62 L447.50,409.90 L448.70,411.19 L449.90,412.49 L451.10,413.80 L452.30,415.11 L453.50,416.43 L454.70,417.76 L455.90,419.09 L457.10,420.43 L458.30,421.78 L459.50,423.13 L460.70,424.49 L461.90,425.86 L463.10,427.23 L464.30,428.61 L465.50,430.00 L466.70,431.39 L467.90,432.79 L469.10,434.19 L470.30,435.60 L471.50,437.01 L472.70,438.43 L473.90,439.86 L475.10,441.29 L476.30,442.72 L477.50,444.16 L478.70,445.60 L479.90,447.05 L481.10,448.50 L482.30,449.96 L483.50,451.42 L484.70,452.88 L485.90,454.34 L487.10,455.81 L488.30,457.29 L489.50,458.76 L490.70,460.24 L491.90,461.72 L493.10,463.20 L494.30,464.68 L495.50,466.17 L496.70,467.66 L497.90,469.14 L499.10,470.63 L500.30,472.12 L501.50,473.62 L502.70,475.11 L503.90,476.60 L505.10,478.09 L506.30,479.58 L507.50,481.07 L508.70,482.57 L509.90,484.06 L511.10,485.54 L512.30,487.03 L513.50,488.52 L514.70,490.00 L515.90,491.49 L517.10,492.97 L518.30,494.45 L519.50,495.92 L520.70,497.40 L521.90,498.87 L523.10,500.33 L524.30,501.80 L525.50,503.26 L526.70,504.72 L527.90,506.17 L529.10,507.62 L530.30,509.06 L531.50,510.50 L532.70,511.94 L533.90,513.37 L535.10,514.80 L536.30,516.22 L537.50,517.63 L538.70,519.04 L539.90,520.44 L541.10,521.84 L542.30,523.23 L543.50,524.62 L544.70,526.00 L545.90,527.37 L547.10,528.74 L548.30,530.09 L549.50,531.45 L550.70,532.79 L551.90,534.13 L553.10,535.46 L554.30,536.78 L555.50,538.09 L556.70,539.40 L557.90,540.70 L559.10,541.99 L560.30,543.27 L561.50,544.54 L562.70,545.81 L563.90,547.06 L565.10,548.31 L566.30,549.55 L567.50,550.78 L568.70,552.00 L569.90,553.21 L571.10,554.41 L572.30,555.61 L573.50,556.79 L574.70,557.96 L575.90,559.13 L577.10,560.28 L578.30,561.43 L579.50,562.57 L580.70,563.69 L581.90,564.81 L583.10,565.92 L584.30,567.01 L585.50,568.10 L586.70,569.18 L587.90,570.24 L589.10,571.30 L590.30,572.35 L591.50,573.38 L592.70,574.41 L593.90,575.43 L595.10,576.43 L596.30,577.43 L597.50,578.42 L598.70,579.39 L599.90,580.36 L601.10,581.31 L602.30,582.26 L603.50,583.20 L604.70,584.12 L605.90,585.04 L607.10,585.94 L608.30,586.84 L609.50,587.72 L610.70,588.60 L611.90,589.46 L613.10,590.32 L614.30,591.16 L615.50,592.00 L616.70,592.83 L617.90,593.64 L619.10,594.45 L620.30,595.25 L621.50,596.03 L622.70,596.81 L623.90,597.58 L625.10,598.34 L626.30,599.09 L627.50,599.83 L628.70,600.56 L629.90,601.28 L631.10,601.99 L632.30,602.69 L633.50,603.39 L634.70,604.07 L635.90,604.75 L637.10,605.42 L638.30,606.08 L639.50,606.73 L640.70,607.37 L641.90,608.00 L643.10,608.63 L644.30,609.24 L645.50,609.85 L646.70,610.45 L647.90,611.05 L649.10,611.63 L650.30,612.21 L651.50,612.78 L652.70,613.34 L653.90,613.89 L655.10,614.44 L656.30,614.98 L657.50,615.51 L658.70,616.04 L659.90,616.56 L661.10,617.07 L662.30,617.57 L663.50,618.07 L664.70,618.56 L665.90,619.04 L667.10,619.52 L668.30,619.99 L669.50,620.46 L670.70,620.92 L671.90,621.37 L673.10,621.82 L674.30,622.26 L675.50,622.70 L676.70,623.13 L677.90,623.55 L679.10,623.97 L680.30,624.39 L681.50,624.80 L682.70,625.20 L683.90,625.60 L685.10,626.00 L686.30,626.39 L687.50,626.77 L688.70,627.15 L689.90,627.53 L691.10,627.90 L692.30,628.27 L693.50,628.63 L694.70,628.99 L695.90,629.35 L697.10,629.70 L698.30,630.05 L699.50,630.40" fill="none" stroke="#2459b0" stroke-width="1.7"/>
<path d="M411.50,630.40 L412.70,630.07 L413.90,629.73 L415.10,629.40 L416.30,629.05 L417.50,628.71 L418.70,628.35 L419.90,628.00 L421.10,627.64 L422.30,627.27 L423.50,626.90 L424.70,626.52 L425.90,626.14 L427.10,625.76 L428.30,625.36 L429.50,624.97 L430.70,624.57 L431.90,624.16 L433.10,623.74 L434.30,623.32 L435.50,622.90 L436.70,622.47 L437.90,622.03 L439.10,621.58 L440.30,621.13 L441.50,620.68 L442.70,620.21 L443.90,619.74 L445.10,619.26 L446.30,618.78 L447.50,618.29 L448.70,617.79 L449.90,617.28 L451.10,616.77 L452.30,616.25 L453.50,615.72 L454.70,615.19 L455.90,614.64 L457.10,614.09 L458.30,613.54 L459.50,612.97 L460.70,612.39 L461.90,611.81 L463.10,611.22 L464.30,610.62 L465.50,610.01 L466.70,609.40 L467.90,608.77 L469.10,608.14 L470.30,607.49 L471.50,606.84 L472.70,606.18 L473.90,605.51 L475.10,604.83 L476.30,604.15 L477.50,603.45 L478.70,602.74 L479.90,602.03 L481.10,601.30 L482.30,600.57 L483.50,599.83 L484.70,599.07 L485.90,598.31 L487.10,597.54 L488.30,596.75 L489.50,595.96 L490.70,595.16 L491.90,594.35 L493.10,593.52 L494.30,592.69 L495.50,591.85 L496.70,591.00 L497.90,590.13 L499.10,589.26 L500.30,588.38 L501.50,587.49 L502.70,586.58 L503.90,585.67 L505.10,584.75 L506.30,583.81 L507.50,582.87 L508.70,581.91 L509.90,580.95 L511.10,579.97 L512.30,578.99 L513.50,577.99 L514.70,576.99 L515.90,575.97 L517.10,574.94 L518.30,573.91 L519.50,572.86 L520.70,571.80 L521.90,570.74 L523.10,569.66 L524.30,568.57 L525.50,567.48 L526.70,566.37 L527.90,565.25 L529.10,564.13 L530.30,562.99 L531.50,561.84 L532.70,560.69 L533.90,559.52 L535.10,558.35 L536.30,557.16 L537.50,555.97 L538.70,554.76 L539.90,553.55 L541.10,552.33 L542.30,551.10 L543.50,549.86 L544.70,548.61 L545.90,547.36 L547.10,546.09 L548.30,544.82 L549.50,543.54 L550.70,542.25 L551.90,540.95 L553.10,539.64 L554.30,538.33 L555.50,537.01 L556.70,535.68 L557.90,534.34 L559.10,533.00 L560.30,531.64 L561.50,530.29 L562.70,528.92 L563.90,527.55 L565.10,526.17 L566.30,524.79 L567.50,523.40 L568.70,522.00 L569.90,520.60 L571.10,519.19 L572.30,517.78 L573.50,516.36 L574.70,514.94 L575.90,513.51 L577.10,512.08 L578.30,510.64 L579.50,509.20 L580.70,507.75 L581.90,506.30 L583.10,504.85 L584.30,503.39 L585.50,501.93 L586.70,500.47 L587.90,499.00 L589.10,497.53 L590.30,496.06 L591.50,494.59 L592.70,493.11 L593.90,491.64 L595.10,490.16 L596.30,488.68 L597.50,487.19 L598.70,485.71 L599.90,484.23 L601.10,482.74 L602.30,481.26 L603.50,479.77 L604.70,478.29 L605.90,476.81 L607.10,475.32 L608.30,473.84 L609.50,472.36 L610.70,470.88 L611.90,469.40 L613.10,467.92 L614.30,466.44 L615.50,464.97 L616.70,463.49 L617.90,462.02 L619.10,460.55 L620.30,459.09 L621.50,457.63 L622.70,456.17 L623.90,454.71 L625.10,453.26 L626.30,451.81 L627.50,450.37 L628.70,448.92 L629.90,447.49 L631.10,446.05 L632.30,444.63 L633.50,443.20 L634.70,441.78 L635.90,440.37 L637.10,438.96 L638.30,437.56 L639.50,436.16 L640.70,434.77 L641.90,433.38 L643.10,432.00 L644.30,430.62 L645.50,429.25 L646.70,427.89 L647.90,426.53 L649.10,425.18 L650.30,423.84 L651.50,422.50 L652.70,421.17 L653.90,419.85 L655.10,418.53 L656.30,417.22 L657.50,415.91 L658.70,414.62 L659.90,413.33 L661.10,412.04 L662.30,410.77 L663.50,409.50 L664.70,408.24 L665.90,406.98 L667.10,405.74 L668.30,404.50 L669.50,403.27 L670.70,402.04 L671.90,400.82 L673.10,399.61 L674.30,398.41 L675.50,397.21 L676.70,396.02 L677.90,394.84 L679.10,393.67 L680.30,392.50 L681.50,391.34 L682.70,390.18 L683.90,389.04 L685.10,387.90 L686.30,386.76 L687.50,385.64 L688.70,384.51 L689.90,383.40 L691.10,382.29 L692.30,381.19 L693.50,380.09 L694.70,379.00 L695.90,377.92 L697.10,376.84 L698.30,375.77 L699.50,374.70" fill="none" stroke="#2459b0" stroke-width="1.7"/>
<rect x="612.3" y="488.3" width="119.40" height="54.90" fill="#fff" stroke="#444" stroke-width="0.8"/>
<path d="M616.1258302583026,495.16 H658.6350553505534" stroke="#2085cf" stroke-width="1.7" stroke-dasharray="1.91 3.08 1.91 3.08 6.91 3.08 6.91 3.08 6.91 3.08"/>
<text transform="translate(661.82,499.36) scale(0.7817179668863565,1)" font-family='"Liberation Sans", sans-serif' class="sn" font-size="11.790777647518562" text-anchor="start" font-weight="normal" >Linear fit</text>
<path d="M616.1258302583026,508.89 H658.6350553505534" stroke="#2459b0" stroke-width="1.7"/>
<text transform="translate(661.82,513.08) scale(0.7817179668863565,1)" font-family='"Liberation Sans", sans-serif' class="sn" font-size="11.790777647518562" text-anchor="start" font-weight="normal" >Exponential fit</text>
<path d="M616.1258302583026,522.61 H657.040959409594" stroke="#e5343c" stroke-width="1.7" stroke-dasharray="3.19 2.09"/>
<text transform="translate(661.82,526.81) scale(0.7817179668863565,1)" font-family='"Liberation Sans", sans-serif' class="sn" font-size="11.790777647518562" text-anchor="start" font-weight="normal" >Ideal</text>
<path d="M616.1258302583026,536.34 H658.6350553505534" stroke="#b747a8" stroke-width="1.7" stroke-dasharray="1.81 4.99 1.81 4.99 5.63 4.99"/>
<text transform="translate(661.82,540.53) scale(0.7817179668863565,1)" font-family='"Liberation Sans", sans-serif' class="sn" font-size="11.790777647518562" text-anchor="start" font-weight="normal" >Wang et al. [19]</text>
<text transform="translate(386,534) rotate(-90) scale(1.125,1)" font-family='"Liberation Serif", serif' font-size="12.54" text-anchor="middle" class="sa">Activity</text>
<text transform="translate(536.1,666.1) scale(0.766,1)" font-family='"Liberation Serif", serif' font-size="13.79" class="sf">x<tspan font-size="7.59" dy="5.20" dx="0.4">Mg</tspan></text>
<text transform="translate(547.90,694.00) scale(0.818942631976183,1)" font-family='"Liberation Sans", sans-serif' class="sn" font-size="11.890699491989057" text-anchor="middle" font-weight="normal" >(d)</text>
<text transform="translate(448,456.3) scale(0.702,1)" font-family='"Liberation Sans", sans-serif' font-size="12.59" class="sn">a<tspan font-family='"Liberation Serif", serif' font-size="8.49" dy="4.20" dx="0.3" class="sb">Li</tspan></text>
<text transform="translate(650.1,443.7) scale(0.702,1)" font-family='"Liberation Sans", sans-serif' font-size="12.59" class="sn">a<tspan font-family='"Liberation Serif", serif' font-size="8.49" dy="4.20" dx="0.3" class="sb">Mg</tspan></text></g>
<g><path d="M223.50,729.50 V998.10 H504.60" fill="none" stroke="#737373" stroke-width="1"/>
<path d="M219.20,998.10 H223.50 M223.50,998.10 V1003.40 M219.20,944.38 H223.50 M279.72,998.10 V1003.40 M219.20,890.66 H223.50 M335.94,998.10 V1003.40 M219.20,836.94 H223.50 M392.16,998.10 V1003.40 M219.20,783.22 H223.50 M448.38,998.10 V1003.40 M219.20,729.50 H223.50 M504.60,998.10 V1003.40" fill="none" stroke="#737373" stroke-width="1"/>
<text transform="translate(217.30,1002.30) scale(0.7510509928479776,1)" font-family='"Liberation Sans", sans-serif' class="sn" font-size="11.965767878077374" text-anchor="end" font-weight="normal" >0</text>
<text transform="translate(217.30,948.58) scale(0.7510509928479776,1)" font-family='"Liberation Sans", sans-serif' class="sn" font-size="11.965767878077374" text-anchor="end" font-weight="normal" >0.2</text>
<text transform="translate(279.72,1017.70) scale(0.7510509928479776,1)" font-family='"Liberation Sans", sans-serif' class="sn" font-size="11.965767878077374" text-anchor="middle" font-weight="normal" >0.2</text>
<text transform="translate(217.30,894.86) scale(0.7510509928479776,1)" font-family='"Liberation Sans", sans-serif' class="sn" font-size="11.965767878077374" text-anchor="end" font-weight="normal" >0.4</text>
<text transform="translate(335.94,1017.70) scale(0.7510509928479776,1)" font-family='"Liberation Sans", sans-serif' class="sn" font-size="11.965767878077374" text-anchor="middle" font-weight="normal" >0.4</text>
<text transform="translate(217.30,841.14) scale(0.7510509928479776,1)" font-family='"Liberation Sans", sans-serif' class="sn" font-size="11.965767878077374" text-anchor="end" font-weight="normal" >0.6</text>
<text transform="translate(392.16,1017.70) scale(0.7510509928479776,1)" font-family='"Liberation Sans", sans-serif' class="sn" font-size="11.965767878077374" text-anchor="middle" font-weight="normal" >0.6</text>
<text transform="translate(217.30,787.42) scale(0.7510509928479776,1)" font-family='"Liberation Sans", sans-serif' class="sn" font-size="11.965767878077374" text-anchor="end" font-weight="normal" >0.8</text>
<text transform="translate(448.38,1017.70) scale(0.7510509928479776,1)" font-family='"Liberation Sans", sans-serif' class="sn" font-size="11.965767878077374" text-anchor="middle" font-weight="normal" >0.8</text>
<text transform="translate(217.30,733.70) scale(0.7510509928479776,1)" font-family='"Liberation Sans", sans-serif' class="sn" font-size="11.965767878077374" text-anchor="end" font-weight="normal" >1</text>
<text transform="translate(504.60,1017.70) scale(0.7510509928479776,1)" font-family='"Liberation Sans", sans-serif' class="sn" font-size="11.965767878077374" text-anchor="middle" font-weight="normal" >1</text>
<path d="M223.50,729.50 L504.60,998.10" fill="none" stroke="#e5343c" stroke-width="1.7" stroke-dasharray="3.6 2.35"/>
<path d="M223.50,998.10 L504.60,729.50" fill="none" stroke="#e5343c" stroke-width="1.7" stroke-dasharray="3.6 2.35"/>
<path d="M223.50,729.50 L224.67,730.62 L225.84,731.75 L227.01,732.88 L228.19,734.01 L229.36,735.15 L230.53,736.29 L231.70,737.44 L232.87,738.59 L234.04,739.75 L235.21,740.91 L236.38,742.07 L237.56,743.25 L238.73,744.42 L239.90,745.60 L241.07,746.79 L242.24,747.98 L243.41,749.18 L244.58,750.38 L245.75,751.59 L246.93,752.80 L248.10,754.02 L249.27,755.24 L250.44,756.47 L251.61,757.70 L252.78,758.94 L253.95,760.18 L255.12,761.43 L256.30,762.69 L257.47,763.95 L258.64,765.22 L259.81,766.49 L260.98,767.77 L262.15,769.05 L263.32,770.34 L264.49,771.63 L265.67,772.93 L266.84,774.24 L268.01,775.55 L269.18,776.86 L270.35,778.18 L271.52,779.51 L272.69,780.84 L273.86,782.18 L275.04,783.52 L276.21,784.86 L277.38,786.22 L278.55,787.57 L279.72,788.93 L280.89,790.30 L282.06,791.67 L283.23,793.05 L284.41,794.43 L285.58,795.82 L286.75,797.21 L287.92,798.60 L289.09,800.00 L290.26,801.40 L291.43,802.81 L292.60,804.22 L293.77,805.64 L294.95,807.06 L296.12,808.48 L297.29,809.91 L298.46,811.34 L299.63,812.78 L300.80,814.21 L301.97,815.66 L303.14,817.10 L304.32,818.55 L305.49,820.00 L306.66,821.45 L307.83,822.91 L309.00,824.37 L310.17,825.83 L311.34,827.29 L312.51,828.76 L313.69,830.23 L314.86,831.70 L316.03,833.17 L317.20,834.64 L318.37,836.12 L319.54,837.60 L320.71,839.07 L321.88,840.55 L323.06,842.03 L324.23,843.51 L325.40,844.99 L326.57,846.48 L327.74,847.96 L328.91,849.44 L330.08,850.92 L331.25,852.41 L332.43,853.89 L333.60,855.37 L334.77,856.85 L335.94,858.33 L337.11,859.81 L338.28,861.29 L339.45,862.76 L340.62,864.24 L341.80,865.71 L342.97,867.19 L344.14,868.66 L345.31,870.12 L346.48,871.59 L347.65,873.05 L348.82,874.51 L350.00,875.97 L351.17,877.43 L352.34,878.88 L353.51,880.33 L354.68,881.77 L355.85,883.22 L357.02,884.65 L358.19,886.09 L359.37,887.52 L360.54,888.94 L361.71,890.37 L362.88,891.78 L364.05,893.20 L365.22,894.60 L366.39,896.00 L367.56,897.40 L368.74,898.79 L369.91,900.18 L371.08,901.56 L372.25,902.93 L373.42,904.30 L374.59,905.66 L375.76,907.02 L376.93,908.37 L378.11,909.71 L379.28,911.05 L380.45,912.38 L381.62,913.70 L382.79,915.02 L383.96,916.32 L385.13,917.62 L386.30,918.92 L387.48,920.20 L388.65,921.48 L389.82,922.75 L390.99,924.01 L392.16,925.26 L393.33,926.50 L394.50,927.74 L395.67,928.97 L396.85,930.18 L398.02,931.39 L399.19,932.59 L400.36,933.78 L401.53,934.97 L402.70,936.14 L403.87,937.30 L405.04,938.46 L406.22,939.60 L407.39,940.74 L408.56,941.86 L409.73,942.98 L410.90,944.08 L412.07,945.18 L413.24,946.26 L414.41,947.34 L415.59,948.40 L416.76,949.46 L417.93,950.50 L419.10,951.53 L420.27,952.56 L421.44,953.57 L422.61,954.57 L423.78,955.56 L424.96,956.54 L426.13,957.51 L427.30,958.47 L428.47,959.42 L429.64,960.36 L430.81,961.28 L431.98,962.20 L433.15,963.10 L434.33,963.99 L435.50,964.88 L436.67,965.75 L437.84,966.61 L439.01,967.46 L440.18,968.29 L441.35,969.12 L442.52,969.94 L443.70,970.74 L444.87,971.54 L446.04,972.32 L447.21,973.09 L448.38,973.85 L449.55,974.60 L450.72,975.34 L451.89,976.06 L453.07,976.78 L454.24,977.48 L455.41,978.18 L456.58,978.86 L457.75,979.53 L458.92,980.19 L460.09,980.84 L461.26,981.48 L462.44,982.11 L463.61,982.73 L464.78,983.34 L465.95,983.94 L467.12,984.52 L468.29,985.10 L469.46,985.66 L470.63,986.22 L471.81,986.76 L472.98,987.30 L474.15,987.82 L475.32,988.33 L476.49,988.84 L477.66,989.33 L478.83,989.81 L480.00,990.29 L481.18,990.75 L482.35,991.21 L483.52,991.65 L484.69,992.09 L485.86,992.51 L487.03,992.93 L488.20,993.33 L489.37,993.73 L490.55,994.12 L491.72,994.50 L492.89,994.87 L494.06,995.23 L495.23,995.58 L496.40,995.93 L497.57,996.26 L498.74,996.59 L499.92,996.91 L501.09,997.22 L502.26,997.52 L503.43,997.81 L504.60,998.10" fill="none" stroke="#b747a8" stroke-width="1.7" stroke-dasharray="2 5.6 2 5.6 6.3 5.6"/>
<path d="M223.50,998.10 L224.67,997.67 L225.84,997.24 L227.01,996.80 L228.19,996.36 L229.36,995.92 L230.53,995.47 L231.70,995.02 L232.87,994.57 L234.04,994.11 L235.21,993.65 L236.38,993.18 L237.56,992.71 L238.73,992.24 L239.90,991.76 L241.07,991.28 L242.24,990.80 L243.41,990.31 L244.58,989.81 L245.75,989.31 L246.93,988.81 L248.10,988.30 L249.27,987.79 L250.44,987.27 L251.61,986.75 L252.78,986.22 L253.95,985.68 L255.12,985.15 L256.30,984.60 L257.47,984.05 L258.64,983.50 L259.81,982.94 L260.98,982.37 L262.15,981.80 L263.32,981.23 L264.49,980.64 L265.67,980.06 L266.84,979.46 L268.01,978.86 L269.18,978.26 L270.35,977.64 L271.52,977.02 L272.69,976.40 L273.86,975.77 L275.04,975.13 L276.21,974.49 L277.38,973.84 L278.55,973.18 L279.72,972.51 L280.89,971.84 L282.06,971.16 L283.23,970.48 L284.41,969.79 L285.58,969.09 L286.75,968.38 L287.92,967.67 L289.09,966.95 L290.26,966.22 L291.43,965.49 L292.60,964.74 L293.77,963.99 L294.95,963.24 L296.12,962.47 L297.29,961.70 L298.46,960.92 L299.63,960.13 L300.80,959.33 L301.97,958.53 L303.14,957.72 L304.32,956.90 L305.49,956.07 L306.66,955.23 L307.83,954.39 L309.00,953.54 L310.17,952.67 L311.34,951.80 L312.51,950.93 L313.69,950.04 L314.86,949.15 L316.03,948.24 L317.20,947.33 L318.37,946.41 L319.54,945.48 L320.71,944.55 L321.88,943.60 L323.06,942.64 L324.23,941.68 L325.40,940.71 L326.57,939.73 L327.74,938.74 L328.91,937.74 L330.08,936.73 L331.25,935.71 L332.43,934.69 L333.60,933.65 L334.77,932.61 L335.94,931.56 L337.11,930.50 L338.28,929.43 L339.45,928.35 L340.62,927.26 L341.80,926.16 L342.97,925.06 L344.14,923.94 L345.31,922.82 L346.48,921.68 L347.65,920.54 L348.82,919.39 L350.00,918.23 L351.17,917.06 L352.34,915.89 L353.51,914.70 L354.68,913.50 L355.85,912.30 L357.02,911.09 L358.19,909.86 L359.37,908.63 L360.54,907.39 L361.71,906.15 L362.88,904.89 L364.05,903.62 L365.22,902.35 L366.39,901.07 L367.56,899.78 L368.74,898.48 L369.91,897.17 L371.08,895.85 L372.25,894.53 L373.42,893.20 L374.59,891.86 L375.76,890.51 L376.93,889.15 L378.11,887.79 L379.28,886.42 L380.45,885.04 L381.62,883.65 L382.79,882.26 L383.96,880.86 L385.13,879.45 L386.30,878.03 L387.48,876.61 L388.65,875.18 L389.82,873.74 L390.99,872.30 L392.16,870.85 L393.33,869.39 L394.50,867.92 L395.67,866.46 L396.85,864.98 L398.02,863.50 L399.19,862.01 L400.36,860.52 L401.53,859.02 L402.70,857.51 L403.87,856.00 L405.04,854.49 L406.22,852.97 L407.39,851.44 L408.56,849.91 L409.73,848.38 L410.90,846.84 L412.07,845.30 L413.24,843.75 L414.41,842.20 L415.59,840.65 L416.76,839.09 L417.93,837.53 L419.10,835.97 L420.27,834.40 L421.44,832.83 L422.61,831.26 L423.78,829.69 L424.96,828.11 L426.13,826.53 L427.30,824.95 L428.47,823.37 L429.64,821.79 L430.81,820.21 L431.98,818.62 L433.15,817.04 L434.33,815.46 L435.50,813.87 L436.67,812.29 L437.84,810.70 L439.01,809.12 L440.18,807.54 L441.35,805.95 L442.52,804.37 L443.70,802.80 L444.87,801.22 L446.04,799.65 L447.21,798.07 L448.38,796.50 L449.55,794.94 L450.72,793.37 L451.89,791.81 L453.07,790.26 L454.24,788.70 L455.41,787.15 L456.58,785.61 L457.75,784.07 L458.92,782.54 L460.09,781.01 L461.26,779.48 L462.44,777.97 L463.61,776.45 L464.78,774.95 L465.95,773.45 L467.12,771.96 L468.29,770.47 L469.46,769.00 L470.63,767.53 L471.81,766.06 L472.98,764.61 L474.15,763.17 L475.32,761.73 L476.49,760.30 L477.66,758.89 L478.83,757.48 L480.00,756.08 L481.18,754.69 L482.35,753.32 L483.52,751.95 L484.69,750.59 L485.86,749.25 L487.03,747.92 L488.20,746.60 L489.37,745.29 L490.55,743.99 L491.72,742.71 L492.89,741.44 L494.06,740.18 L495.23,738.94 L496.40,737.71 L497.57,736.49 L498.74,735.29 L499.92,734.10 L501.09,732.93 L502.26,731.77 L503.43,730.63 L504.60,729.50" fill="none" stroke="#b747a8" stroke-width="1.7" stroke-dasharray="2 5.6 2 5.6 6.3 5.6"/>
<path d="M223.50,729.50 L224.67,730.64 L225.84,731.82 L227.01,733.05 L228.19,734.31 L229.36,735.62 L230.53,736.97 L231.70,738.35 L232.87,739.78 L234.04,741.24 L235.21,742.73 L236.38,744.26 L237.56,745.83 L238.73,747.43 L239.90,749.06 L241.07,750.73 L242.24,752.42 L243.41,754.15 L244.58,755.90 L245.75,757.68 L246.93,759.48 L248.10,761.31 L249.27,763.17 L250.44,765.04 L251.61,766.94 L252.78,768.86 L253.95,770.80 L255.12,772.75 L256.30,774.72 L257.47,776.71 L258.64,778.71 L259.81,780.72 L260.98,782.75 L262.15,784.79 L263.32,786.83 L264.49,788.89 L265.67,790.95 L266.84,793.02 L268.01,795.09 L269.18,797.17 L270.35,799.25 L271.52,801.33 L272.69,803.41 L273.86,805.49 L275.04,807.58 L276.21,809.66 L277.38,811.73 L278.55,813.81 L279.72,815.87 L280.89,817.94 L282.06,819.99 L283.23,822.04 L284.41,824.08 L285.58,826.11 L286.75,828.13 L287.92,830.14 L289.09,832.14 L290.26,834.13 L291.43,836.10 L292.60,838.07 L293.77,840.02 L294.95,841.95 L296.12,843.87 L297.29,845.77 L298.46,847.66 L299.63,849.54 L300.80,851.39 L301.97,853.23 L303.14,855.05 L304.32,856.85 L305.49,858.64 L306.66,860.41 L307.83,862.16 L309.00,863.88 L310.17,865.59 L311.34,867.28 L312.51,868.96 L313.69,870.61 L314.86,872.24 L316.03,873.85 L317.20,875.44 L318.37,877.01 L319.54,878.56 L320.71,880.09 L321.88,881.60 L323.06,883.08 L324.23,884.55 L325.40,886.00 L326.57,887.43 L327.74,888.83 L328.91,890.22 L330.08,891.58 L331.25,892.92 L332.43,894.25 L333.60,895.55 L334.77,896.84 L335.94,898.10 L337.11,899.34 L338.28,900.57 L339.45,901.77 L340.62,902.96 L341.80,904.12 L342.97,905.27 L344.14,906.39 L345.31,907.50 L346.48,908.59 L347.65,909.66 L348.82,910.72 L350.00,911.75 L351.17,912.77 L352.34,913.77 L353.51,914.75 L354.68,915.72 L355.85,916.67 L357.02,917.60 L358.19,918.52 L359.37,919.41 L360.54,920.30 L361.71,921.17 L362.88,922.02 L364.05,922.86 L365.22,923.68 L366.39,924.49 L367.56,925.28 L368.74,926.06 L369.91,926.83 L371.08,927.58 L372.25,928.32 L373.42,929.04 L374.59,929.76 L375.76,930.46 L376.93,931.15 L378.11,931.83 L379.28,932.49 L380.45,933.15 L381.62,933.79 L382.79,934.42 L383.96,935.04 L385.13,935.66 L386.30,936.26 L387.48,936.85 L388.65,937.43 L389.82,938.01 L390.99,938.57 L392.16,939.13 L393.33,939.68 L394.50,940.22 L395.67,940.76 L396.85,941.28 L398.02,941.81 L399.19,942.32 L400.36,942.83 L401.53,943.33 L402.70,943.83 L403.87,944.32 L405.04,944.80 L406.22,945.29 L407.39,945.76 L408.56,946.24 L409.73,946.71 L410.90,947.17 L412.07,947.64 L413.24,948.10 L414.41,948.56 L415.59,949.02 L416.76,949.47 L417.93,949.93 L419.10,950.38 L420.27,950.83 L421.44,951.29 L422.61,951.74 L423.78,952.19 L424.96,952.65 L426.13,953.11 L427.30,953.56 L428.47,954.02 L429.64,954.49 L430.81,954.95 L431.98,955.42 L433.15,955.89 L434.33,956.37 L435.50,956.85 L436.67,957.33 L437.84,957.82 L439.01,958.32 L440.18,958.82 L441.35,959.32 L442.52,959.83 L443.70,960.35 L444.87,960.88 L446.04,961.41 L447.21,961.95 L448.38,962.50 L449.55,963.06 L450.72,963.62 L451.89,964.19 L453.07,964.78 L454.24,965.37 L455.41,965.97 L456.58,966.58 L457.75,967.20 L458.92,967.83 L460.09,968.47 L461.26,969.12 L462.44,969.78 L463.61,970.45 L464.78,971.13 L465.95,971.82 L467.12,972.52 L468.29,973.23 L469.46,973.95 L470.63,974.68 L471.81,975.42 L472.98,976.17 L474.15,976.93 L475.32,977.70 L476.49,978.48 L477.66,979.27 L478.83,980.06 L480.00,980.86 L481.18,981.67 L482.35,982.48 L483.52,983.31 L484.69,984.13 L485.86,984.96 L487.03,985.79 L488.20,986.63 L489.37,987.47 L490.55,988.31 L491.72,989.15 L492.89,989.99 L494.06,990.83 L495.23,991.66 L496.40,992.49 L497.57,993.32 L498.74,994.14 L499.92,994.95 L501.09,995.75 L502.26,996.55 L503.43,997.33 L504.60,998.10" fill="none" stroke="#2085cf" stroke-width="1.7" stroke-dasharray="2.2 3.6 2.2 3.6 8.1 3.6 8.1 3.6 8.1 3.6"/>
<path d="M223.50,998.10 L224.67,997.99 L225.84,997.88 L227.01,997.75 L228.19,997.62 L229.36,997.47 L230.53,997.32 L231.70,997.15 L232.87,996.98 L234.04,996.79 L235.21,996.59 L236.38,996.38 L237.56,996.15 L238.73,995.91 L239.90,995.66 L241.07,995.39 L242.24,995.10 L243.41,994.80 L244.58,994.49 L245.75,994.16 L246.93,993.80 L248.10,993.43 L249.27,993.05 L250.44,992.64 L251.61,992.21 L252.78,991.76 L253.95,991.30 L255.12,990.81 L256.30,990.29 L257.47,989.76 L258.64,989.20 L259.81,988.62 L260.98,988.01 L262.15,987.38 L263.32,986.72 L264.49,986.04 L265.67,985.33 L266.84,984.60 L268.01,983.84 L269.18,983.05 L270.35,982.23 L271.52,981.39 L272.69,980.52 L273.86,979.62 L275.04,978.69 L276.21,977.73 L277.38,976.74 L278.55,975.72 L279.72,974.67 L280.89,973.60 L282.06,972.49 L283.23,971.35 L284.41,970.19 L285.58,968.99 L286.75,967.77 L287.92,966.51 L289.09,965.23 L290.26,963.92 L291.43,962.58 L292.60,961.21 L293.77,959.81 L294.95,958.39 L296.12,956.94 L297.29,955.46 L298.46,953.95 L299.63,952.42 L300.80,950.87 L301.97,949.29 L303.14,947.68 L304.32,946.06 L305.49,944.41 L306.66,942.74 L307.83,941.04 L309.00,939.33 L310.17,937.60 L311.34,935.85 L312.51,934.08 L313.69,932.29 L314.86,930.49 L316.03,928.68 L317.20,926.85 L318.37,925.01 L319.54,923.15 L320.71,921.29 L321.88,919.41 L323.06,917.53 L324.23,915.64 L325.40,913.74 L326.57,911.83 L327.74,909.93 L328.91,908.01 L330.08,906.10 L331.25,904.18 L332.43,902.27 L333.60,900.35 L334.77,898.44 L335.94,896.53 L337.11,894.62 L338.28,892.72 L339.45,890.82 L340.62,888.93 L341.80,887.04 L342.97,885.17 L344.14,883.30 L345.31,881.45 L346.48,879.60 L347.65,877.77 L348.82,875.95 L350.00,874.14 L351.17,872.34 L352.34,870.56 L353.51,868.80 L354.68,867.05 L355.85,865.32 L357.02,863.61 L358.19,861.91 L359.37,860.23 L360.54,858.57 L361.71,856.93 L362.88,855.30 L364.05,853.70 L365.22,852.12 L366.39,850.56 L367.56,849.01 L368.74,847.49 L369.91,845.99 L371.08,844.51 L372.25,843.05 L373.42,841.61 L374.59,840.20 L375.76,838.80 L376.93,837.43 L378.11,836.07 L379.28,834.74 L380.45,833.43 L381.62,832.14 L382.79,830.87 L383.96,829.62 L385.13,828.39 L386.30,827.18 L387.48,825.99 L388.65,824.82 L389.82,823.67 L390.99,822.54 L392.16,821.42 L393.33,820.32 L394.50,819.25 L395.67,818.18 L396.85,817.14 L398.02,816.11 L399.19,815.10 L400.36,814.10 L401.53,813.11 L402.70,812.14 L403.87,811.19 L405.04,810.25 L406.22,809.32 L407.39,808.40 L408.56,807.50 L409.73,806.60 L410.90,805.72 L412.07,804.84 L413.24,803.98 L414.41,803.12 L415.59,802.27 L416.76,801.43 L417.93,800.60 L419.10,799.77 L420.27,798.95 L421.44,798.13 L422.61,797.32 L423.78,796.52 L424.96,795.71 L426.13,794.91 L427.30,794.11 L428.47,793.32 L429.64,792.52 L430.81,791.73 L431.98,790.93 L433.15,790.14 L434.33,789.34 L435.50,788.54 L436.67,787.74 L437.84,786.94 L439.01,786.14 L440.18,785.33 L441.35,784.52 L442.52,783.70 L443.70,782.88 L444.87,782.06 L446.04,781.22 L447.21,780.39 L448.38,779.54 L449.55,778.69 L450.72,777.83 L451.89,776.97 L453.07,776.09 L454.24,775.21 L455.41,774.32 L456.58,773.42 L457.75,772.52 L458.92,771.60 L460.09,770.67 L461.26,769.74 L462.44,768.79 L463.61,767.84 L464.78,766.87 L465.95,765.90 L467.12,764.91 L468.29,763.92 L469.46,762.91 L470.63,761.89 L471.81,760.87 L472.98,759.83 L474.15,758.79 L475.32,757.73 L476.49,756.67 L477.66,755.60 L478.83,754.51 L480.00,753.42 L481.18,752.32 L482.35,751.22 L483.52,750.10 L484.69,748.98 L485.86,747.85 L487.03,746.71 L488.20,745.57 L489.37,744.43 L490.55,743.28 L491.72,742.13 L492.89,740.97 L494.06,739.82 L495.23,738.66 L496.40,737.50 L497.57,736.35 L498.74,735.19 L499.92,734.04 L501.09,732.90 L502.26,731.76 L503.43,730.62 L504.60,729.50" fill="none" stroke="#2085cf" stroke-width="1.7" stroke-dasharray="2.2 3.6 2.2 3.6 8.1 3.6 8.1 3.6 8.1 3.6"/>
<path d="M223.50,729.50 L224.67,730.62 L225.84,731.75 L227.01,732.89 L228.19,734.04 L229.36,735.19 L230.53,736.35 L231.70,737.52 L232.87,738.69 L234.04,739.88 L235.21,741.07 L236.38,742.26 L237.56,743.47 L238.73,744.68 L239.90,745.90 L241.07,747.13 L242.24,748.36 L243.41,749.60 L244.58,750.85 L245.75,752.10 L246.93,753.36 L248.10,754.63 L249.27,755.90 L250.44,757.18 L251.61,758.47 L252.78,759.76 L253.95,761.06 L255.12,762.37 L256.30,763.68 L257.47,765.00 L258.64,766.33 L259.81,767.66 L260.98,768.99 L262.15,770.33 L263.32,771.68 L264.49,773.03 L265.67,774.39 L266.84,775.75 L268.01,777.12 L269.18,778.50 L270.35,779.87 L271.52,781.26 L272.69,782.65 L273.86,784.04 L275.04,785.43 L276.21,786.84 L277.38,788.24 L278.55,789.65 L279.72,791.06 L280.89,792.48 L282.06,793.90 L283.23,795.33 L284.41,796.76 L285.58,798.19 L286.75,799.62 L287.92,801.06 L289.09,802.50 L290.26,803.94 L291.43,805.39 L292.60,806.84 L293.77,808.29 L294.95,809.74 L296.12,811.19 L297.29,812.65 L298.46,814.11 L299.63,815.57 L300.80,817.03 L301.97,818.49 L303.14,819.96 L304.32,821.42 L305.49,822.89 L306.66,824.35 L307.83,825.82 L309.00,827.29 L310.17,828.75 L311.34,830.22 L312.51,831.69 L313.69,833.16 L314.86,834.62 L316.03,836.09 L317.20,837.56 L318.37,839.02 L319.54,840.49 L320.71,841.95 L321.88,843.41 L323.06,844.87 L324.23,846.33 L325.40,847.79 L326.57,849.25 L327.74,850.70 L328.91,852.15 L330.08,853.60 L331.25,855.05 L332.43,856.49 L333.60,857.94 L334.77,859.38 L335.94,860.81 L337.11,862.25 L338.28,863.68 L339.45,865.10 L340.62,866.53 L341.80,867.94 L342.97,869.36 L344.14,870.77 L345.31,872.18 L346.48,873.59 L347.65,874.98 L348.82,876.38 L350.00,877.77 L351.17,879.16 L352.34,880.54 L353.51,881.92 L354.68,883.29 L355.85,884.65 L357.02,886.01 L358.19,887.37 L359.37,888.72 L360.54,890.07 L361.71,891.41 L362.88,892.74 L364.05,894.07 L365.22,895.39 L366.39,896.71 L367.56,898.02 L368.74,899.32 L369.91,900.62 L371.08,901.91 L372.25,903.19 L373.42,904.47 L374.59,905.74 L375.76,907.00 L376.93,908.26 L378.11,909.51 L379.28,910.75 L380.45,911.99 L381.62,913.22 L382.79,914.44 L383.96,915.66 L385.13,916.86 L386.30,918.06 L387.48,919.25 L388.65,920.44 L389.82,921.62 L390.99,922.78 L392.16,923.95 L393.33,925.10 L394.50,926.25 L395.67,927.38 L396.85,928.51 L398.02,929.64 L399.19,930.75 L400.36,931.86 L401.53,932.95 L402.70,934.04 L403.87,935.12 L405.04,936.20 L406.22,937.26 L407.39,938.32 L408.56,939.37 L409.73,940.41 L410.90,941.44 L412.07,942.46 L413.24,943.48 L414.41,944.49 L415.59,945.48 L416.76,946.47 L417.93,947.45 L419.10,948.43 L420.27,949.39 L421.44,950.35 L422.61,951.30 L423.78,952.24 L424.96,953.17 L426.13,954.09 L427.30,955.00 L428.47,955.91 L429.64,956.80 L430.81,957.69 L431.98,958.57 L433.15,959.44 L434.33,960.31 L435.50,961.16 L436.67,962.01 L437.84,962.85 L439.01,963.68 L440.18,964.50 L441.35,965.31 L442.52,966.12 L443.70,966.92 L444.87,967.70 L446.04,968.48 L447.21,969.26 L448.38,970.02 L449.55,970.78 L450.72,971.53 L451.89,972.27 L453.07,973.00 L454.24,973.72 L455.41,974.44 L456.58,975.15 L457.75,975.85 L458.92,976.54 L460.09,977.23 L461.26,977.91 L462.44,978.58 L463.61,979.24 L464.78,979.89 L465.95,980.54 L467.12,981.18 L468.29,981.82 L469.46,982.44 L470.63,983.06 L471.81,983.67 L472.98,984.27 L474.15,984.87 L475.32,985.46 L476.49,986.04 L477.66,986.62 L478.83,987.19 L480.00,987.75 L481.18,988.31 L482.35,988.86 L483.52,989.40 L484.69,989.93 L485.86,990.46 L487.03,990.99 L488.20,991.50 L489.37,992.01 L490.55,992.52 L491.72,993.01 L492.89,993.51 L494.06,993.99 L495.23,994.47 L496.40,994.94 L497.57,995.41 L498.74,995.87 L499.92,996.33 L501.09,996.78 L502.26,997.23 L503.43,997.67 L504.60,998.10" fill="none" stroke="#2459b0" stroke-width="1.7"/>
<path d="M223.50,998.10 L224.67,997.68 L225.84,997.24 L227.01,996.81 L228.19,996.37 L229.36,995.92 L230.53,995.46 L231.70,995.00 L232.87,994.54 L234.04,994.06 L235.21,993.58 L236.38,993.10 L237.56,992.61 L238.73,992.11 L239.90,991.60 L241.07,991.09 L242.24,990.57 L243.41,990.05 L244.58,989.51 L245.75,988.97 L246.93,988.43 L248.10,987.88 L249.27,987.32 L250.44,986.75 L251.61,986.17 L252.78,985.59 L253.95,985.00 L255.12,984.41 L256.30,983.80 L257.47,983.19 L258.64,982.57 L259.81,981.95 L260.98,981.31 L262.15,980.67 L263.32,980.02 L264.49,979.37 L265.67,978.70 L266.84,978.03 L268.01,977.35 L269.18,976.66 L270.35,975.96 L271.52,975.26 L272.69,974.55 L273.86,973.83 L275.04,973.10 L276.21,972.36 L277.38,971.62 L278.55,970.86 L279.72,970.10 L280.89,969.33 L282.06,968.55 L283.23,967.77 L284.41,966.97 L285.58,966.17 L286.75,965.36 L287.92,964.54 L289.09,963.71 L290.26,962.87 L291.43,962.02 L292.60,961.17 L293.77,960.31 L294.95,959.44 L296.12,958.56 L297.29,957.67 L298.46,956.77 L299.63,955.87 L300.80,954.95 L301.97,954.03 L303.14,953.10 L304.32,952.16 L305.49,951.21 L306.66,950.25 L307.83,949.29 L309.00,948.31 L310.17,947.33 L311.34,946.34 L312.51,945.34 L313.69,944.33 L314.86,943.31 L316.03,942.29 L317.20,941.25 L318.37,940.21 L319.54,939.16 L320.71,938.10 L321.88,937.03 L323.06,935.96 L324.23,934.87 L325.40,933.78 L326.57,932.68 L327.74,931.57 L328.91,930.46 L330.08,929.33 L331.25,928.20 L332.43,927.06 L333.60,925.91 L334.77,924.75 L335.94,923.59 L337.11,922.42 L338.28,921.24 L339.45,920.05 L340.62,918.86 L341.80,917.65 L342.97,916.44 L344.14,915.23 L345.31,914.00 L346.48,912.77 L347.65,911.53 L348.82,910.29 L350.00,909.03 L351.17,907.77 L352.34,906.51 L353.51,905.23 L354.68,903.95 L355.85,902.67 L357.02,901.38 L358.19,900.08 L359.37,898.77 L360.54,897.46 L361.71,896.14 L362.88,894.82 L364.05,893.49 L365.22,892.15 L366.39,890.81 L367.56,889.47 L368.74,888.11 L369.91,886.76 L371.08,885.40 L372.25,884.03 L373.42,882.66 L374.59,881.28 L375.76,879.90 L376.93,878.51 L378.11,877.12 L379.28,875.72 L380.45,874.33 L381.62,872.92 L382.79,871.51 L383.96,870.10 L385.13,868.69 L386.30,867.27 L387.48,865.85 L388.65,864.42 L389.82,862.99 L390.99,861.56 L392.16,860.13 L393.33,858.69 L394.50,857.25 L395.67,855.81 L396.85,854.36 L398.02,852.92 L399.19,851.47 L400.36,850.02 L401.53,848.56 L402.70,847.11 L403.87,845.65 L405.04,844.20 L406.22,842.74 L407.39,841.28 L408.56,839.82 L409.73,838.36 L410.90,836.90 L412.07,835.43 L413.24,833.97 L414.41,832.51 L415.59,831.05 L416.76,829.58 L417.93,828.12 L419.10,826.66 L420.27,825.20 L421.44,823.74 L422.61,822.28 L423.78,820.82 L424.96,819.36 L426.13,817.91 L427.30,816.45 L428.47,815.00 L429.64,813.55 L430.81,812.10 L431.98,810.65 L433.15,809.20 L434.33,807.76 L435.50,806.32 L436.67,804.88 L437.84,803.44 L439.01,802.01 L440.18,800.58 L441.35,799.15 L442.52,797.73 L443.70,796.31 L444.87,794.89 L446.04,793.48 L447.21,792.07 L448.38,790.66 L449.55,789.26 L450.72,787.86 L451.89,786.46 L453.07,785.07 L454.24,783.69 L455.41,782.31 L456.58,780.93 L457.75,779.56 L458.92,778.19 L460.09,776.83 L461.26,775.47 L462.44,774.12 L463.61,772.78 L464.78,771.43 L465.95,770.10 L467.12,768.77 L468.29,767.44 L469.46,766.12 L470.63,764.81 L471.81,763.50 L472.98,762.20 L474.15,760.91 L475.32,759.62 L476.49,758.33 L477.66,757.06 L478.83,755.78 L480.00,754.52 L481.18,753.26 L482.35,752.01 L483.52,750.76 L484.69,749.52 L485.86,748.29 L487.03,747.07 L488.20,745.85 L489.37,744.64 L490.55,743.43 L491.72,742.23 L492.89,741.04 L494.06,739.85 L495.23,738.68 L496.40,737.50 L497.57,736.34 L498.74,735.18 L499.92,734.03 L501.09,732.89 L502.26,731.75 L503.43,730.62 L504.60,729.50" fill="none" stroke="#2459b0" stroke-width="1.7"/>
<rect x="420.2" y="846.5" width="116.60" height="60.20" fill="#fff" stroke="#444" stroke-width="0.8"/>
<path d="M423.9341697416974,854.02 H465.4249446494465" stroke="#2085cf" stroke-width="1.7" stroke-dasharray="1.87 3.01 1.87 3.01 6.74 3.01 6.74 3.01 6.74 3.01"/>
<text transform="translate(468.54,858.43) scale(0.7263453680832415,1)" font-family='"Liberation Sans", sans-serif' class="sn" font-size="12.385619382571317" text-anchor="start" font-weight="normal" >Linear fit</text>
<path d="M423.9341697416974,869.08 H465.4249446494465" stroke="#2459b0" stroke-width="1.7"/>
<text transform="translate(468.54,873.48) scale(0.7263453680832415,1)" font-family='"Liberation Sans", sans-serif' class="sn" font-size="12.385619382571317" text-anchor="start" font-weight="normal" >Exponential fit</text>
<path d="M423.9341697416974,884.12 H463.8690405904059" stroke="#e5343c" stroke-width="1.7" stroke-dasharray="3.11 2.04"/>
<text transform="translate(468.54,888.53) scale(0.7263453680832415,1)" font-family='"Liberation Sans", sans-serif' class="sn" font-size="12.385619382571317" text-anchor="start" font-weight="normal" >Ideal</text>
<path d="M423.9341697416974,899.18 H465.4249446494465" stroke="#b747a8" stroke-width="1.7" stroke-dasharray="1.76 4.88 1.76 4.88 5.50 4.88"/>
<text transform="translate(468.54,903.58) scale(0.7263453680832415,1)" font-family='"Liberation Sans", sans-serif' class="sn" font-size="12.385619382571317" text-anchor="start" font-weight="normal" >Wang et al. [19]</text>
<text transform="translate(198,897.5) rotate(-90) scale(1.211,1)" font-family='"Liberation Serif", serif' font-size="12.24" text-anchor="middle" class="sa">Activity</text>
<text transform="translate(344.5,1034.5) scale(0.712,1)" font-family='"Liberation Serif", serif' font-size="14.48" class="sf">x<tspan font-size="7.98" dy="5.46" dx="0.4">Mg</tspan></text>
<text transform="translate(347.50,1057.50) scale(0.7609332427538721,1)" font-family='"Liberation Sans", sans-serif' class="sn" font-size="12.490582258694802" text-anchor="middle" font-weight="normal" >(e)</text>
<text transform="translate(260.5,819.3) scale(0.652,1)" font-family='"Liberation Sans", sans-serif' font-size="13.23" class="sn">a<tspan font-family='"Liberation Serif", serif' font-size="8.92" dy="4.41" dx="0.3" class="sb">Li</tspan></text>
<text transform="translate(453,808) scale(0.652,1)" font-family='"Liberation Sans", sans-serif' font-size="13.23" class="sn">a<tspan font-family='"Liberation Serif", serif' font-size="8.92" dy="4.41" dx="0.3" class="sb">Mg</tspan></text></g>
</svg>
</body></html>
